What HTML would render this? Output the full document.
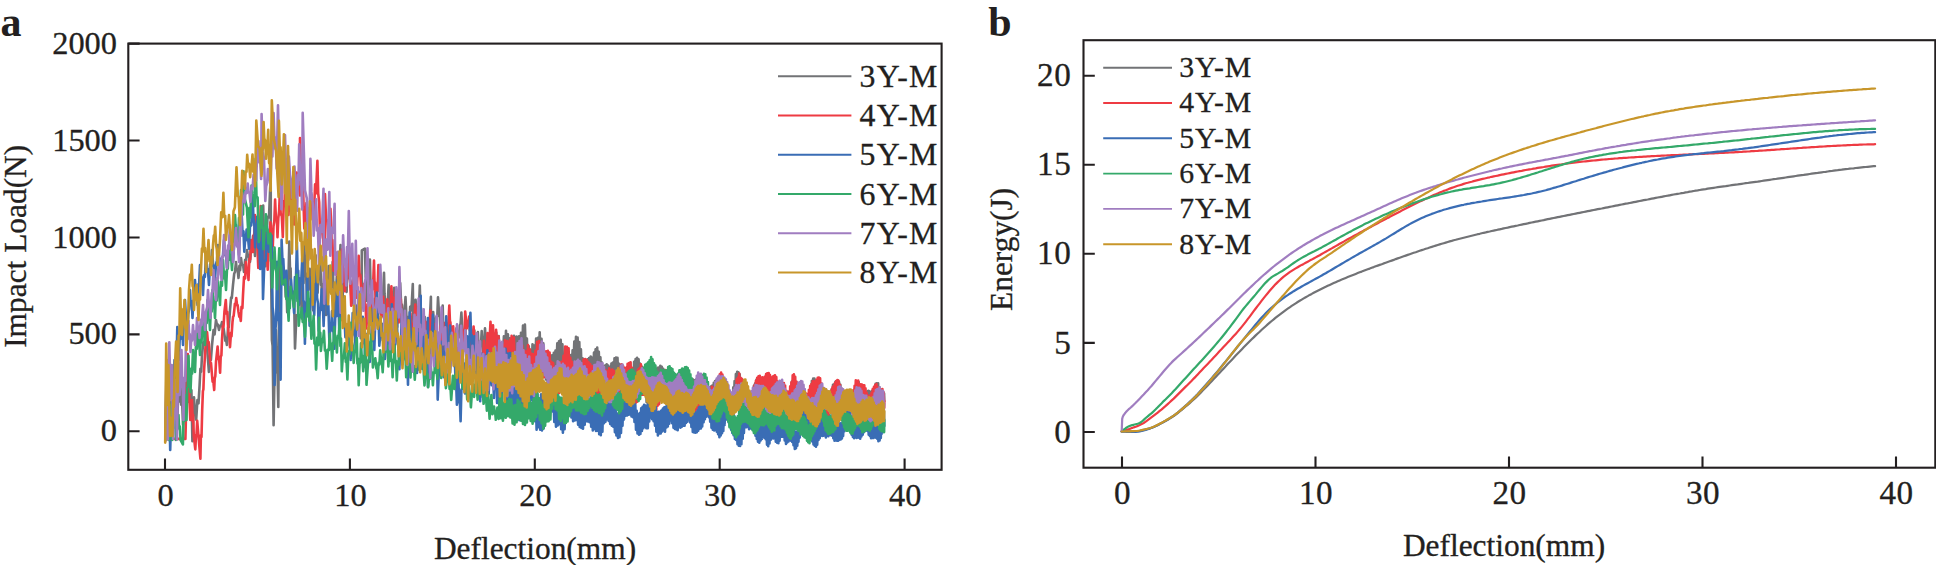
<!DOCTYPE html>
<html><head><meta charset="utf-8"><title>Impact load and energy vs deflection</title>
<style>
html,body{margin:0;padding:0;background:#fff}
svg{display:block}
text{font-family:"Liberation Serif",serif;fill:#231f20;stroke:#231f20;stroke-width:0.3px}
.t{font-size:31.4px}
.ta{font-size:32.4px}
.tb{font-size:33.2px;letter-spacing:0.5px}
.la{font-size:31.8px;letter-spacing:1.2px}
.lb{font-size:29.7px;letter-spacing:0.9px}
.lab{font-size:42px;font-weight:bold;stroke:none}
.ax{stroke:#231f20;stroke-width:2.1;fill:none;stroke-linecap:butt}
.c{fill:none;stroke-width:2.6;stroke-linejoin:round;stroke-linecap:round}
.l{fill:none;stroke-width:1.9}
.cb{fill:none;stroke-width:2.2;stroke-linejoin:round;stroke-linecap:round}
</style></head><body>
<svg width="1936" height="565" viewBox="0 0 1936 565">
<rect width="1936" height="565" fill="#fff"/>
<g id="panel-a">
<rect class="ax" x="128.3" y="43.6" width="813.3" height="426.2"/>
<path class="ax" d="M165.0 469.8v-11.3M349.9 469.8v-11.3M534.8 469.8v-11.3M719.7 469.8v-11.3M904.6 469.8v-11.3M128.3 431.3h11.3M128.3 334.4h11.3M128.3 237.5h11.3M128.3 140.5h11.3M128.3 43.6h11.3"/>
<text class="ta" text-anchor="middle" x="165.6" y="506.4">0</text>
<text class="ta" text-anchor="middle" x="350.5" y="506.4">10</text>
<text class="ta" text-anchor="middle" x="535.4" y="506.4">20</text>
<text class="ta" text-anchor="middle" x="720.3" y="506.4">30</text>
<text class="ta" text-anchor="middle" x="905.2" y="506.4">40</text>
<text class="ta" text-anchor="end" x="117.0" y="441.3">0</text>
<text class="ta" text-anchor="end" x="117.0" y="344.4">500</text>
<text class="ta" text-anchor="end" x="117.0" y="247.5">1000</text>
<text class="ta" text-anchor="end" x="117.0" y="150.5">1500</text>
<text class="ta" text-anchor="end" x="117.0" y="53.6">2000</text>
<path class="c" stroke="#727376" d="M165.3 438.9l1.2 -58.9 1.5 58 0.6 -32.5 0.8 0.8 0.6 -31.3 0.8 32.3 0.6 -0.1 0.6 28.8 0.8 -34.2 0.8 8.5 0.9 -38.3 0.9 33.8 0.7 -7.8 0.9 32 0.9 -27.3 1.2 -1.6 0.9 -27.1 1.2 30.6 0.8 -7.4 1 27.8 1 -22.5 1.1 -0.2 0.9 -20.3 1 11.5 0.8 -4 1.2 12.5 0.7 -5.8 0.9 0.3 0.8 -6.5 1 51.3 1.6 -43.9 0.7 11.5 0.7 -2 0.8 12.8 1.2 -19.6 1.1 3.2 1.1 -18.3 0.8 -16.3 0.8 3 0.8 -16.7 1.3 -12.5 1.3 -0.9 1.2 -11.7 1.6 22.1 1.5 20 1.1 -14.7 0.9 2.5 1.1 -14.8 1.5 -14.9 1.1 4.3 1.4 -14.4 1 5.1 0.9 -0.6 1.1 5.5 1 -4.2 1.1 0.1 0.9 -3.9 0.8 5.9 0.8 0.4 0.9 6.7 0.8 5.7 0.8 -1 0.8 5.3 1.2 -17.8 0.7 0.1 1.2 -17.3 1.1 -12.5 0.7 0.5 1.2 -13 1.2 -11.4 0.8 -1.6 1 -10 0.7 7.3 1 1.1 0.8 7.6 0.9 -12.1 0.7 4.2 0.9 -12.1 0.9 7 1.2 0.2 0.9 6.8 1.1 -12.1 1 0.9 0.9 -10.8 1 6.4 0.9 -1.2 1.1 6.8 1 -12.5 1 -1.1 1 -12.4 0.6 10.4 0.8 -0.2 0.6 9.8 0.9 -17.5 1.1 3 0.8 -16.8 1.3 20.7 1 -3.9 1 17.3 0.7 -29.4 0.7 4.2 0.7 -28 0.7 31.6 0.7 -5.6 0.9 34.7 2 -49.4 1.5 0.5 1.7 -42.8 0.2 80.7 1 84.7 0.7 5.8 1 79.4 0.9 -50.6 0.6 -2.1 0.7 -42.5 0.8 39 0.8 -2.6 0.9 40.6 1.1 -146.5 2.1 6 1.2 -0.3 2.1 6 0.9 24.4 0.9 -4.5 0.6 20.1 0.7 -30.9 0.6 -4.5 0.8 -35.2 0.7 28.2 0.6 -1.6 0.6 25.1 2.8 -1.5 1 56.6 1.4 -33 1.6 0 1.7 -37.1 0.7 21.1 0.6 -4.3 0.9 23.4 0.7 -41.5 0.9 6.2 0.7 -40.3 1.2 31.6 0.7 -0.9 1.2 30.7 0.7 -14.6 0.8 -4.4 0.9 -16.5 1 21.2 1 -3.5 1.2 23.6 1 -25.1 0.7 -2.3 1 -27.3 0.6 17.8 0.8 1.6 0.6 17.9 0.8 -16.2 1 0.8 0.9 -17 0.7 24.6 0.5 -0.9 0.8 25.5 0.7 -20.8 0.6 0.3 0.6 -19.1 0.6 23.6 0.6 -4.7 0.7 26.2 0.8 -25.4 1 2.6 0.8 -26.1 0.5 12.4 0.7 0.7 0.7 13.6 0.7 -16.1 0.5 2.3 0.9 -17.2 0.7 26.2 0.7 -4.8 0.9 28.9 1.8 -35.6 1.5 9.4 2.2 -40.8 0.3 75.1 0.8 -22 1 -0.6 0.9 -23.3 1.2 9 1.1 1 0.8 7.6 0.8 -20.3 0.6 0.5 0.7 -19.5 1 25.7 1 3 0.9 23.6 0.6 -14 0.9 2.8 0.9 -16 1 27.2 0.7 0.1 0.9 25.1 1.9 -12.3 1.4 0.1 1.9 -12.1 0 -55.4 3.1 -1.8 0.8 28.3 0.7 -1.4 0.8 25.6 1 -24.5 0.7 6.6 1 -23.6 0.9 36 0.8 3.2 0.8 34.4 0.8 -20 0.8 5.9 0.8 -20.3 1.1 9.4 1.1 2.4 1 9 0.8 -14.7 0.7 1.8 0.6 -12.5 0.6 10.1 0.6 2.2 0.6 9.7 0.6 -17.8 0.8 -6.6 0.7 -18.9 0.5 20.8 0.7 8.5 0.5 19.9 0.9 -20.1 1 4.2 1 -21.4 0.9 27.1 0.9 -3 1 29.1 1.1 -29.9 0.8 7.4 0.9 -27.6 1.1 20.7 0.9 -1 1 19.3 0.9 -21.8 1.1 1 1 -23 0.9 20.3 0.9 1.8 0.9 22.1 0.8 -12.9 0.9 -3.4 0.9 -13.9 1 21.2 1 -1.5 1 20.5 1.7 -30.6 1.2 3.7 1.4 -26.4 0.6 39.6 0.7 -13.1 0.9 1.3 0.6 -12.1 0.7 13.8 0.7 -0.6 0.8 15.7 0.7 -21.1 0.6 -1.8 0.7 -20.2 0.8 30.1 0.5 -7.2 0.8 29.8 0.9 -9 1.2 -3 0.8 -9.2 0.8 19.7 0.7 0.7 0.7 17.6 1.5 -33.3 1 5.4 1.4 -30.4 0.2 49.4 0.6 -16.4 0.7 2.6 0.8 -20.3 0.7 13.4 0.9 -1.8 0.6 12.9 0.8 -19.2 1.1 -1 0.7 -19 1.1 17.4 0.7 2.1 1 16.7 0.7 -16.4 0.6 2.4 0.6 -13.9 0.6 25.4 0.7 -5.4 0.7 29.2 1.1 -15.9 0.7 2.6 1 -16.7 0.9 21.6 0.9 4.1 0.9 21.9 0.7 -14.2 0.8 -2.9 0.9 -15.6 1.7 26.5 0.7 -21.3 0.7 6.2 0.7 -22.7 0.8 4.3 1 0.5 0.7 4.2 0.9 -11.8 0.8 -1.9 0.8 -11.1 1 19.8 0.6 -2.6 0.9 18.9 1.4 -23.9 0.8 17.1 0.7 3.4 1 21.2 0.5 -15.4 0.7 2 0.6 -15.3 0.8 21 0.9 -3.3 0.7 18.1 0.9 -26.9 0.6 8 0.8 -24.5 0.6 10.3 0.6 -1.7 0.6 12.3 0.6 -8.9 0.7 -1.3 0.5 -8.8 0.6 13.8 0.8 -2.5 0.6 14 0.6 -11.3 0.5 -2 0.7 -13 0.5 12 0.6 -2.3 0.7 14.1 1.5 -26.5 1.7 26.4 0.6 -6.8 0.5 0.9 0.6 -6.5 0.6 13.2 0.5 -4.2 0.6 12.8 1.4 -24.7 1.4 24.5 1 -30.5 1.3 26.2 1.1 -27.1 0.9 22.8 1.5 -19.3 1.2 24.3 1.6 -14.1 1 19.9 1.4 -30 1.2 19.2 0.9 -24.7 1 30.1 0.9 -26.5 1.2 28.6 0.8 -24.7 0.8 24.9 0.9 -20.9 1.2 24.8 1.2 -31.3 1.4 27.3 1.2 -26.5 1.2 25.7 1.2 -25.8 1.1 24.6 0.9 -28.3 1 25.9 1 -33.1 0.9 23.3 1 -24.3 1 32.5 1 -18.4 0.9 31.5 1 -23.9 0.9 32.5 0.9 -27.7 1 24.4 0.9 -31.2 0.9 25.5 0.9 -24.1 0.9 22.5 0.9 -29.6 0.9 25.7 0.9 -26.5 0.9 21.2 0.9 -26.7 0.9 29.3 0.9 -22.7 0.9 22 0.9 -17.6 0.9 28.9 0.8 -20.1 0.9 27.5 0.9 -17.7 0.9 20.6 0.9 -22.8 0.8 25.3 0.9 -24.3 0.9 22.5 0.9 -27.8 0.8 23.2 0.9 -25.8 0.9 24.3 0.8 -26.4 0.9 16.4 0.9 -23.8 0.8 19.5 0.9 -21.3 0.9 18.5 0.8 -20.2 0.9 22.4 0.8 -17.9 0.9 27.5 0.8 -17.1 0.9 25.7 0.8 -24 0.9 26.8 0.8 -23.9 0.9 24 0.8 -24.5 0.9 23.2 0.8 -26.8 0.9 22.1 0.8 -26.8 0.8 19 0.9 -27.9 0.8 21.4 0.9 -26.2 0.8 22.4 0.8 -21.6 0.8 24.3 0.9 -19.7 0.8 29.1 0.8 -21.9 0.9 28 0.8 -19.1 0.8 25.8 0.8 -24 0.8 26.3 0.9 -23.8 0.8 20.3 0.8 -23.4 0.8 24.5 0.8 -25.9 0.8 25.3 0.8 -26.8 0.9 25.1 0.8 -23.9 0.8 20.1 0.8 -25.2 0.8 22.7 0.8 -26.1 0.8 23.8 0.8 -25.4 0.8 25.7 0.8 -21.5 0.8 23.9 0.8 -18.5 0.8 24.4 0.8 -19.1 0.7 23.6 0.8 -19.6 0.8 23.1 0.8 -24 0.8 23.1 0.8 -24.5 0.8 23.8 0.7 -22.4 0.8 23.4 0.8 -21.9 0.8 20.2 0.8 -23.7 0.7 22.5 0.8 -23.6 0.8 20 0.8 -24.1 0.7 20.5 0.8 -21.3 0.8 20.4 0.7 -20.2 0.8 25.3 0.8 -19.2 0.7 22.9 0.8 -21.7 0.8 24.8 0.7 -23.4 0.8 25.3 0.7 -21.7 0.8 22.6 0.7 -21.6 0.8 23.8 0.7 -19.8 0.8 24.3 0.7 -19.5 0.8 20.6 0.7 -20.6 0.8 22.2 0.7 -24.3 0.8 17.9 0.7 -26.6 0.8 19.2 0.7 -26.5 0.8 20.3 0.7 -23 0.7 19.8 0.8 -21.2 0.7 22.7 0.8 -21.2 0.7 24.2 0.7 -19.8 0.8 21.7 0.7 -19.1 0.7 20 0.8 -18.5 0.7 23.6 0.7 -20.5 0.8 24.3 0.7 -15.9 0.7 22.9 0.8 -17.2 0.7 21.4 0.7 -18 0.7 18.6 0.8 -20.4 0.7 17.8 0.7 -23.6 0.7 18.9 0.8 -25.6 0.7 20.3 0.7 -23.5 0.7 19.9 0.7 -21 0.8 20.4 0.7 -22.3 0.7 20.3 0.7 -20.5 0.7 20.9 0.7 -22.6 0.8 20.5 0.7 -19.5 0.7 19.9 0.7 -18 0.7 21 0.7 -15.4 0.7 21.9 0.7 -17.3 0.7 23.3 0.8 -18.1 0.7 18.4 0.7 -18.4 0.7 17.6 0.7 -20.2 0.7 16.2 0.7 -20 0.7 19.1 0.7 -20.1 0.7 18 0.7 -17.6 0.7 18.4 0.7 -19.2 0.7 20.4 0.7 -21.7 0.7 20.6 0.7 -22.1 0.7 19.3 0.7 -18.8 0.6 18.6 0.7 -17.7 0.7 20.1 0.7 -17.2 0.7 20 0.7 -16.6 0.7 22.6 0.7 -17.2 0.7 19.1 0.6 -20.6 0.7 19 0.7 -19.1 0.7 16.3 0.7 -20 0.7 17.3 0.7 -19 0.6 17.8 0.7 -18.5 0.7 18.5 0.7 -17.5 0.6 18.4 0.7 -18.1 0.7 17.8 0.7 -19.1 0.7 17.3 0.6 -18.2 0.7 19.7 0.7 -18.8 0.6 20.5 0.7 -18.2 0.7 21.2 0.7 -15.7 0.6 22.4 0.7 -15.9 0.7 21 0.6 -17.9 0.7 18.2 0.7 -18 0.6 17.8 0.7 -20.3 0.7 18.2 0.6 -20.7 0.7 15.2 0.6 -18.1 0.7 16.9 0.7 -19.2 0.6 17.9 0.7 -19.1 0.6 16 0.7 -18.5 0.7 17.7 0.6 -19.4 0.7 17.8 0.6 -18.6 0.7 16.5 0.6 -17.6 0.7 16.9 0.6 -18.1 0.7 19.4 0.6 -15.2 0.7 21.6 0.6 -16.7 0.7 20.2 0.6 -14.4 0.7 18.7 0.6 -14.9 0.7 17.9 0.6 -18.4 0.7 19.3 0.6 -19 0.7 16.5 0.6 -16.9 0.7 15.7 0.6 -17.3 0.7 16.7 0.6 -17.3 0.6 16.4 0.7 -17.5 0.6 13.7 0.7 -19.2 0.6 13.1 0.7 -19.3 0.6 13.7 0.7 -20.6 0.6 14.5 0.7 -16.8 0.6 16.2 0.6 -15.7 0.7 17.9 0.6 -15.9 0.7 20.7 0.6 -14.4 0.7 19.4 0.6 -14.3 0.7 17.9 0.6 -16.5 0.6 18.3 0.7 -16.7 0.6 19.6 0.7 -15.5 0.6 18 0.7 -16.3 0.6 18.5 0.6 -17.7 0.7 19.4 0.6 -16.6 0.7 16.2 0.6 -19.5 0.6 16.6 0.7 -18.3 0.6 14.5 0.7 -21.8 0.6 15 0.6 -17.5 0.7 15.1 0.6 -18.5 0.7 18.3 0.6 -17.5 0.6 17.4 0.7 -14.8 0.6 19.3 0.6 -17.5 0.7 19.7 0.6 -16.8 0.7 17.5 0.6 -17.9 0.6 19.2 0.7 -17.2 0.6 16.3 0.6 -15.3 0.7 18.3 0.6 -14.5 0.7 17.3 0.6 -15.1 0.6 16.8 0.7 -14.9 0.6 15.2 0.6 -17.3 0.7 14.7 0.6 -17.1 0.6 13.6 0.7 -17.1 0.6 15.2 0.6 -18 0.7 16.4 0.6 -17.3 0.6 16.9 0.7 -15.6 0.6 18.7 0.6 -17.5 0.7 18.6 0.6 -15.3 0.6 16.9 0.7 -17.7 0.6 17 0.6 -16.2 0.7 17.2 0.6 -18.1 0.6 16.9 0.7 -15.5 0.6 17.9 0.6 -17 0.6 18.6 0.7 -16.6 0.6 16.1 0.6 -16.7 0.7 15 0.6 -19 0.6 15.4 0.6 -19.3 0.7 14.2 0.6 -20.2 0.6 16.6 0.7 -18.2 0.6 14.6 0.6 -14.8 0.6 17 0.7 -14.9 0.6 16.1 0.6 -15.3 0.7 18.8 0.6 -15.4 0.6 16.7 0.6 -14.3 0.7 15.8 0.6 -15.9 0.6 18 0.6 -15.9 0.7 19.4 0.6 -16.1 0.6 19 0.6 -14.2 0.7 18.4 0.6 -15.6 0.6 16.2 0.6 -17.8 0.7 15.7 0.6 -17.7 0.6 15 0.6 -20 0.7 14.6 0.6 -20.7 0.6 15.2 0.6 -20.9 0.6 17.1 0.7 -19.4 0.6 17.7 0.6 -17.7 0.6 17.7 0.7 -15.6 0.6 16.1 0.6 -15.5 0.6 16.7 0.6 -17.3 0.7 18.7 0.6 -16.8 0.6 19.9 0.6 -15.1 0.6 18.8 0.7 -14.6 0.6 19.9 0.6 -13 0.6 19.2 0.6 -14.4 0.6 19.6 0.7 -15.1 0.6 15.5 0.6 -16.7 0.6 16.7 0.6 -20.9 0.7 16 0.6 -20.6 0.6 13.5 0.6 -19.7 0.6 16.4 0.6 -18.9 0.7 15.3 0.6 -19.5 0.6 17.1 0.6 -17.8 0.6 16.1 0.6 -18.4 0.7 17.5 0.6 -18.1 0.6 16.6 0.6 -17.3 0.6 15.8 0.6 -14.3 0.6 17 0.7 -14.3 0.6 19.3 0.6 -14.6 0.6 20.9 0.6 -14.1 0.6 18.4 0.6 -15.1 0.6 18.8 0.7 -16 0.6 16.2 0.6 -16.4 0.6 15.4 0.6 -18.3 0.6 17.1 0.6 -19 0.6 15.5 0.6 -16.3 0.7 16.7 0.6 -18 0.6 17.7 0.6 -18.5 0.6 15.5 0.6 -18.7 0.6 14.8 0.6 -17.9 0.6 14.9 0.6 -19.6 0.7 16.1 0.6 -16.2 0.6 14.7 0.6 -16 0.6 17.4 0.6 -13.7 0.6 19 0.6 -15.8 0.6 17.8 0.6 -14.1 0.6 16.2 0.6 -15.7 0.7 16.7 0.6 -15.3 0.6 15.5 0.6 -17.8 0.6 15.3 0.6 -16.1 0.6 16.9 0.6 -17.5 0.6 16.4 0.6 -15.8 0.6 16.4 0.6 -14.9 0.6 14.4 0.6 -16.6 0.6 16 0.6 -17.7 0.6 16.4 0.6 -18.8 0.6 14.3 0.6 -17.1 0.6 16.7 0.7 -17.3 0.6 15.9 0.6 -15.8 0.6 19 0.6 -15.3 0.6 17 0.6 -14.7 0.6 16.6 0.6 -15.8 0.6 17.8 0.6 -16.2 0.6 17.8 0.6 -16 0.2 7.7"/>
<path class="c" stroke="#ee3b43" d="M165.3 438.9l20.1 0 1.2 -46.9 1.2 -38 1.2 36 1.3 30 1.7 -20 0.7 21.5 0.4 -6.6 0.7 21.1 1.5 13.4 0.7 -14.3 0.5 -0.4 0.7 -13.8 1.6 19.1 1.6 18.7 0.5 -23.5 0.6 1.8 0.7 -27 0.7 -18.9 0.5 -1.7 0.6 -17.4 1.6 -27 1.5 -12.7 0.9 10.7 0.7 -0.9 0.8 9.9 0.9 11.4 0.6 -0.4 1 12 0.6 6.7 0.8 0.3 0.8 8 0.5 -11.6 0.6 -2.2 0.7 -14.2 1.6 -15.4 0.8 11.6 0.8 2.1 0.9 12.3 0.6 -15.9 0.7 -1.3 0.6 -15.4 0.8 -13.8 0.7 0.6 0.9 -14.8 1.4 -12 0.7 13.4 0.8 -1.6 0.7 13.2 0.6 10.1 0.8 2 0.6 10.1 1 -14.3 0.5 3.4 1 -14.3 0.6 -5.5 0.5 -0.3 0.7 -6.2 0.6 -6.3 0.7 1.1 0.6 -6.8 0.9 7.1 0.5 -0.1 0.9 7 0.8 4.8 0.8 -0.2 0.7 4.4 0.7 -14.2 0.9 1.4 0.6 -13.2 1 -17.9 1.1 1.4 0.9 -16.5 0.9 10.7 0.8 -2.4 0.8 9.7 0.9 -21.3 0.8 0.7 0.8 -19.4 0.8 7.4 0.5 -2.5 0.7 7.1 0.6 -16.3 0.7 -2.1 0.7 -18.6 1.3 27.7 1 1.5 1 23.7 0.7 -25.9 0.9 -9 0.8 -27 0.9 33.3 0.4 -9.3 0.9 33 0.9 -16.7 1.1 2.6 0.9 -17.2 0.7 20.9 0.6 -1.7 0.6 18.9 0.9 -25.6 0.9 2.8 0.9 -24.8 0.9 13.5 0.7 -2.6 0.8 13.2 0.7 -20.1 0.8 -4.5 0.8 -22.2 0.8 18.6 1 1.3 0.6 17.8 0.8 -18.8 0.8 -7.3 0.7 -17.1 0.9 19.5 1.1 2.7 1 20.8 1 -35.9 0.7 5.4 0.9 -35.2 1.2 23.1 0.8 -0.2 1.1 20.7 0.9 -16.5 1 -1.7 0.8 -14.7 0.9 21.3 1.1 -2.7 1 23.9 0.8 -22.2 0.8 -4.3 0.9 -25.5 1.3 11.6 1 1.7 0.9 9.6 0.1 -57.4 1.3 45.4 1.4 -7.4 1.6 52.4 0.6 -12.4 0.8 0.5 0.7 -13.4 0.8 21.2 0.6 0.2 0.6 17 1.1 -28.3 0.9 6.4 0.8 -23.7 1 9 0.8 1.2 0.9 8.1 1.2 -29.8 0.9 9 1.4 -32.6 0.8 32.5 1 9.1 0.9 35.7 1 -10.5 0.8 0.6 1 -9.8 0.5 24.4 0.7 11.8 0.6 26.2 0.3 -86.8 1.1 24.8 1.4 2.7 1 24 0.7 -16.4 0.7 -4.5 0.6 -15.8 1.2 32.8 0.7 -1.7 1.1 30.8 1 -11 0.6 4.2 1.1 -11.2 0.9 21.2 0.9 1.3 0.8 19.3 1 -19.7 1.1 -4 1.1 -21.3 0.8 19.7 1 -0.9 1 22.9 1 -21.2 1 4.2 1.2 -24.5 0.9 21.5 1.4 12.2 0.9 22.2 1 -17.3 1 -2.9 1.1 -18.9 0.8 16 0.9 0.4 0.8 14.9 0.6 -20.3 0.7 -1.9 0.6 -19.8 0.8 17.9 0.9 1.7 0.9 18.8 1 -5.5 1.1 0 0.7 -4.8 0.7 20.5 0.8 0 0.8 24.1 0.8 -16.1 0.9 0.3 0.8 -17.1 0.9 5.6 0.8 0.5 0.9 5.3 0.8 -22.9 0.8 1.5 0.9 -25 0.7 29 0.4 -7 0.7 27.6 0.8 -25.3 0.9 6.1 0.9 -26 0.9 22.4 1.1 8.7 0.9 21.5 0.7 -12.3 0.5 3.5 0.7 -11.9 0.7 18.2 0.9 -0.9 0.7 18.6 0.7 -17.5 0.6 -1.2 0.5 -14.7 0.7 21.9 0.5 -7.3 0.6 21.9 0.9 -24.4 0.6 -3.2 0.8 -22.1 0.8 14.2 0.9 -2.9 0.8 14.3 0.7 -11.4 0.7 1.7 0.8 -12.9 1 17.9 0.9 1.4 0.7 14 0.8 -11.2 0.5 -0.7 0.8 -11.5 0.7 22.8 0.7 -3 0.8 22.7 0.9 -9.8 0.7 -0.4 1.1 -11.4 0.6 9.8 0.9 4.7 0.7 10.3 0.8 -16.2 0.8 3.8 1 -19 0.8 12.8 0.6 0.3 0.8 13.5 0.8 -16.5 0.8 0.2 1 -19.2 0.8 18.3 0.7 -4.4 0.6 15.2 0.8 -12.6 1.2 -2.9 0.9 -13 1 22.6 0.9 -4.3 1 23.4 0.8 -11.3 1 -3.1 0.7 -10.7 0.9 9.9 1 3 0.8 9.6 0.6 -16.3 0.6 2.3 0.8 -19.6 0.8 18.2 0.6 -2 0.7 16.6 0.8 -8.1 0.8 -1.2 1 -10.1 1 14.9 0.8 -0.1 1 15.5 0.9 -13.2 1 -3.7 0.8 -11.6 0.5 15.8 0.5 -3.2 0.7 18.4 0.9 -17 1 -1.2 0.9 -15.9 1.6 18.8 0.8 -15.3 1 -4.5 0.8 -16.1 0.7 16.9 0.4 -0.5 0.7 17 0.8 -7.2 0.7 0.7 0.6 -6.2 0.8 15 0.9 2.5 0.8 14.4 0.5 -11.2 0.6 0.3 0.6 -13 1.7 33.2 0.8 -20 1 2.2 0.8 -20.4 1.7 21.9 0.6 -17.6 0.6 -3.1 0.6 -18.9 1.6 16.8 0.8 -7.3 0.7 2.4 0.8 -6.9 0.7 13.8 0.8 1.1 0.7 13.7 0.8 -8.9 0.8 -1.4 0.7 -8.3 1.3 27.1 1.6 -10.6 0.6 15.4 0.7 1.7 0.6 13.2 0.5 -7.9 0.7 -3.6 0.5 -7.7 0.9 8.2 0.6 0.3 0.7 6.6 0.6 -14.9 0.4 2.5 0.7 -16.2 0.6 11 0.8 5.1 0.6 11.4 1.5 -35.1 1.4 19.4 1.6 -30.7 1.4 34.5 1.1 -31.1 0.7 17 0.4 -2.1 0.7 16.5 1.3 -26.8 1.2 27.3 1.2 -20.7 1.3 40.4 1 -33.4 1.2 34.7 1.1 -33.4 1 27.8 0.9 -32.3 1.3 29.6 1.1 -28.7 1.3 25.9 1.4 -27.2 0.7 29.7 0.8 -33.8 1.1 36 1.2 -34.2 1.2 37 1.3 -22.6 1.1 25.6 0.8 -26.6 1.1 25.2 0.9 -28.1 0.9 29.1 1 -31.5 1 30.3 1 -25.3 0.9 27.1 1 -26.2 1 23.6 0.9 -30.1 1 32.3 0.9 -27.9 1 31.5 0.9 -27.2 0.9 23.4 0.9 -22.8 0.9 20.6 0.9 -24 0.9 23.5 0.9 -32.5 0.9 28.5 0.9 -29.4 0.9 35.3 0.9 -31.2 0.9 35.8 0.9 -29 0.9 25.4 0.9 -23.1 0.8 22.8 0.9 -25.7 0.9 25.4 0.9 -25.9 0.9 26.5 0.8 -24.7 0.9 29.5 0.9 -20.3 0.9 29.6 0.8 -28.4 0.9 29.7 0.9 -24.9 0.8 27.7 0.9 -26.9 0.9 25 0.8 -27.7 0.9 27 0.9 -30.3 0.8 25.5 0.9 -26.4 0.8 22.1 0.9 -28.1 0.8 24.1 0.9 -33.2 0.8 27.2 0.9 -27.1 0.8 29.4 0.9 -27.9 0.8 33.6 0.9 -24.1 0.8 28.4 0.9 -24.4 0.8 31.9 0.8 -28.6 0.9 30.5 0.8 -28.2 0.8 28.9 0.9 -25.4 0.8 29.7 0.8 -27.5 0.9 29.9 0.8 -30.7 0.8 27.4 0.8 -33.2 0.9 25 0.8 -31.9 0.8 27 0.8 -27.4 0.8 26.6 0.9 -25.7 0.8 29.5 0.8 -27.3 0.8 30.3 0.8 -28.5 0.8 30 0.8 -28 0.8 27.6 0.9 -27 0.8 31.9 0.8 -25.6 0.8 31.2 0.8 -27.4 0.8 28.4 0.8 -25.5 0.8 24.7 0.8 -29.3 0.8 24.8 0.7 -28 0.8 25.6 0.8 -28.9 0.8 26 0.8 -25 0.8 27.3 0.8 -26.2 0.8 26 0.7 -25.1 0.8 24.9 0.8 -28 0.8 29.8 0.8 -27.3 0.7 25.2 0.8 -26.5 0.8 28.9 0.8 -27.4 0.7 29.1 0.8 -23.9 0.8 26.9 0.7 -30.1 0.8 28.4 0.8 -29.6 0.7 21.8 0.8 -26.1 0.8 26.4 0.7 -29.6 0.8 27.1 0.7 -25.8 0.8 26.3 0.8 -24.3 0.7 27.4 0.8 -27.3 0.7 25.9 0.8 -29.9 0.7 25.3 0.8 -26 0.7 25.1 0.8 -26 0.7 31.9 0.7 -26.2 0.8 31.9 0.7 -23.6 0.8 28.4 0.7 -29.6 0.8 27.6 0.7 -27.9 0.7 26.9 0.8 -32.1 0.7 24.6 0.8 -26.1 0.7 24.4 0.7 -28.2 0.8 30.5 0.7 -26.1 0.7 26.2 0.8 -25.7 0.7 25.5 0.7 -25.7 0.8 26.8 0.7 -25.5 0.7 27.8 0.8 -21.1 0.7 27.3 0.7 -21.4 0.7 29.8 0.8 -26.4 0.7 30.1 0.7 -26.7 0.7 25.9 0.7 -24.7 0.8 24.2 0.7 -29.9 0.7 25.9 0.7 -28.4 0.7 23.1 0.8 -28.5 0.7 26.9 0.7 -29 0.7 25.2 0.7 -27.1 0.7 24.7 0.7 -25.5 0.8 24.1 0.7 -25.1 0.7 25.8 0.7 -27.1 0.7 25.4 0.7 -23.1 0.7 28.9 0.7 -22.7 0.7 30.1 0.7 -25.4 0.7 30.3 0.7 -25.2 0.7 28.9 0.7 -26.7 0.7 24.1 0.7 -26.8 0.7 26.2 0.7 -26.4 0.7 25.9 0.7 -29.6 0.7 28.5 0.7 -28.8 0.7 26.4 0.7 -29.6 0.7 25.4 0.7 -29.4 0.7 24.9 0.7 -26.9 0.7 23.2 0.7 -25.1 0.7 25.6 0.6 -25 0.7 24.8 0.7 -21.3 0.7 27.1 0.7 -25.1 0.7 28.9 0.7 -26.4 0.6 28.3 0.7 -25.9 0.7 26 0.7 -26.9 0.7 24.8 0.6 -22.6 0.7 24.4 0.7 -24.4 0.7 26.7 0.7 -25.2 0.6 22.8 0.7 -22.5 0.7 22 0.7 -24.2 0.6 21.5 0.7 -25 0.7 23.1 0.6 -24 0.7 24.4 0.7 -27.2 0.6 27.6 0.7 -22.2 0.7 24.7 0.6 -23.1 0.7 26.5 0.7 -21.6 0.6 23.4 0.7 -24.6 0.7 23.9 0.6 -21.2 0.7 22.7 0.7 -26.2 0.6 25.3 0.7 -25.7 0.6 25.4 0.7 -24.1 0.6 24.3 0.7 -24.5 0.7 22.8 0.6 -22.7 0.7 21.6 0.6 -23.7 0.7 20.1 0.6 -26.7 0.7 21 0.6 -25.9 0.7 22.7 0.6 -24.6 0.7 23.2 0.6 -21.1 0.7 23.6 0.6 -19.1 0.7 26.2 0.6 -22.1 0.7 27.6 0.6 -22.4 0.7 23.8 0.6 -19.3 0.7 23.1 0.6 -24.2 0.7 27 0.6 -25.5 0.6 23.2 0.7 -20.9 0.6 22.7 0.7 -24.9 0.6 24.1 0.7 -26.5 0.6 20.5 0.7 -24 0.6 20.3 0.7 -28.5 0.6 23.4 0.7 -25.1 0.6 21.7 0.6 -25.8 0.7 25.3 0.6 -21 0.7 22.7 0.6 -21.7 0.7 24.8 0.6 -20.3 0.6 26.3 0.7 -22.8 0.6 23.3 0.7 -23 0.6 24.3 0.7 -22.8 0.6 25 0.6 -21.6 0.7 23.9 0.6 -22.6 0.7 26.7 0.6 -22.5 0.6 21.6 0.7 -21.8 0.6 20 0.7 -26.4 0.6 21.5 0.6 -27.4 0.7 24.3 0.6 -28.5 0.7 20.7 0.6 -23.6 0.6 23.1 0.7 -24.6 0.6 24.1 0.7 -24.8 0.6 24 0.6 -21.7 0.7 24 0.6 -24.6 0.6 23.9 0.7 -23.3 0.6 23.3 0.7 -24.7 0.6 22.5 0.6 -25 0.7 23.7 0.6 -24.5 0.6 24.7 0.7 -24.9 0.6 27.1 0.6 -25.4 0.7 27.2 0.6 -24.2 0.6 24.5 0.7 -25.4 0.6 23.3 0.6 -24.2 0.7 24.7 0.6 -25.3 0.6 25.7 0.7 -24.1 0.6 25.5 0.6 -21.3 0.7 24.5 0.6 -21.5 0.6 22.4 0.7 -24.5 0.6 25.2 0.6 -25.8 0.7 26 0.6 -23.5 0.6 21.6 0.7 -22.5 0.6 25 0.6 -22.5 0.7 25.8 0.6 -20.5 0.6 22.6 0.6 -21.8 0.7 24.3 0.6 -23.6 0.6 19.6 0.7 -25.6 0.6 21.5 0.6 -25.7 0.6 18.3 0.7 -25.1 0.6 21.3 0.6 -22.5 0.7 23.1 0.6 -20.6 0.6 24.6 0.6 -19.7 0.7 22.9 0.6 -21.3 0.6 22.1 0.6 -19.5 0.7 21.7 0.6 -23.1 0.6 22.2 0.7 -21.5 0.6 22.1 0.6 -20.8 0.6 23.9 0.7 -20.3 0.6 23.4 0.6 -20.6 0.6 22.2 0.7 -21 0.6 19.7 0.6 -19.9 0.6 20.5 0.6 -24.6 0.7 18.8 0.6 -22.7 0.6 21.7 0.6 -23.4 0.7 20.1 0.6 -23 0.6 23.9 0.6 -23.9 0.6 22.1 0.7 -21.2 0.6 19.1 0.6 -21.5 0.6 20.2 0.7 -22.1 0.6 22.4 0.6 -22.6 0.6 21.7 0.6 -20.9 0.7 22.4 0.6 -17.4 0.6 22.6 0.6 -17.9 0.6 25.3 0.7 -20.1 0.6 24 0.6 -18.6 0.6 19.7 0.6 -20.3 0.6 20.4 0.7 -23.2 0.6 20.2 0.6 -22.7 0.6 20.1 0.6 -20.7 0.6 17.6 0.7 -19.5 0.6 18.9 0.6 -21.9 0.6 21 0.6 -22.4 0.6 18.1 0.7 -21.3 0.6 18.5 0.6 -20.2 0.6 19.4 0.6 -20.3 0.6 20.6 0.6 -19.9 0.7 21.8 0.6 -17.9 0.6 23 0.6 -17.5 0.6 24 0.6 -16.7 0.6 20.5 0.7 -17.3 0.6 19.6 0.6 -17.8 0.6 17.3 0.6 -18.6 0.6 20 0.6 -19.4 0.6 18.4 0.7 -20.4 0.6 20.6 0.6 -20.6 0.6 19.8 0.6 -23.1 0.6 19.9 0.6 -21.6 0.6 15.5 0.6 -19.9 0.7 16.9 0.6 -21.4 0.6 15.6 0.6 -21.2 0.6 18.2 0.6 -17.3 0.6 17.4 0.6 -18 0.6 20.6 0.6 -17 0.6 17.5 0.6 -17.3 0.7 19.4 0.6 -19.2 0.6 18.5 0.6 -17.7 0.6 19.8 0.6 -19.8 0.6 21.4 0.6 -18.5 0.6 20.2 0.6 -15.7 0.6 21.1 0.6 -18.3 0.6 18.4 0.6 -16.5 0.6 16.6 0.6 -18.9 0.7 16.3 0.6 -18.6 0.6 15.5 0.6 -19.7 0.6 16.7 0.6 -18.7 0.6 14.7 0.6 -16.3 0.6 16.7 0.6 -17.7 0.6 19.8 0.6 -16.7 0.6 17.6 0.6 -16.7 0.6 18.8 0.6 -17.6 0.6 18.6 0.6 -16.8 0.6 16.6 0.6 -18.7 0.6 18.3 0.6 -15.1 0.6 15.5 0.1 -6.7"/>
<path class="c" stroke="#3a6db5" d="M165.3 440.0l1.1 -45 1.2 35 1.2 -50 1.4 70 1.4 -50 1.2 25 1.7 -65 1.5 25 1.3 -58 1.7 33 0.7 -22.3 0.6 1.3 0.7 -24 0.6 15 0.7 -1.9 0.7 16.9 0.7 -22.9 0.7 -1.4 0.6 -20.7 1 18.3 0.7 -4.5 0.8 16.2 0.7 -16 0.9 -5.1 0.9 -18.9 0.7 14.2 0.9 -3 0.9 16.8 0.8 -16.7 0.7 -2.2 1 -19.1 0.9 12.7 0.8 0.5 0.8 11.8 1 -21 0.5 2.2 1 -21.2 1 16.8 0.9 -4.3 1.1 17.5 0.9 -19.6 1 1.6 1.1 -22 0.9 13.3 1 1 1.1 15.7 1.1 -20.6 0.9 5.8 1 -20.2 1.2 15.6 0.8 0.2 1 14.2 0.9 -15.1 1.1 -4.7 1 -15.2 0.9 14.1 1 -0.6 1.1 16.5 1.2 -17.8 0.7 -0.7 1.1 -16.5 1.1 14.7 1 0.8 0.9 12.5 1 -17.7 1 1.6 1 -16.9 1.1 12.7 0.9 2.9 1 11.4 1 -15.9 0.8 -2.6 1.2 -18.5 0.9 13.4 1.2 3.5 0.9 13.1 0.9 -21.5 0.9 -0.7 0.8 -20.6 1 23.3 0.9 -4.3 0.8 20.4 0.7 -10 0.8 -1.3 0.8 -10.8 0.9 10.2 0.6 -1 0.9 10 1.1 -25.3 1.2 1.9 1.4 -29.5 0.7 21.2 1 8.1 0.7 22.1 0.6 -16.7 0.6 5.7 0.9 -19.3 1.2 31.1 0.8 -5.7 1 26.7 0.5 -17.8 0.8 -4.9 0.7 -20.7 0.8 73.4 1.4 -37.9 1.3 -0.4 1.2 -33.9 0.6 11.2 0.7 2.4 0.7 11.4 0.7 -8 1 0.4 0.9 -8.7 1.1 71.6 1 9.2 1 68.7 0.9 -56.8 0.7 -6.4 0.9 -59.9 1.1 58 1.1 -6.7 1.3 66.4 1 -139.7 1.1 26.4 0.6 -7.3 1.1 25.9 0.7 -7.5 0.6 0.8 0.8 -7.5 0.6 18.9 0.7 2.6 0.7 19.1 0.9 -18.3 0.7 3.5 0.8 -16.9 1 13.7 1.1 4.5 1.1 15.1 0.8 -35.8 1 5.2 1 -40 0.8 31.2 0.5 -3 0.9 34.3 1.1 -22.6 1.2 -4.5 1 -23.1 0.9 45.7 0.8 1.9 0.8 41.6 0.7 -30.1 0.9 -7.1 0.7 -28.1 0.9 27.5 0.6 -6.7 0.9 26.3 0.6 -21.6 0.7 -7.2 0.6 -19.8 1 18.5 0.8 1.6 0.9 18.2 0.8 -20.8 0.8 -4.3 0.7 -18.3 0.6 26.1 0.9 5.4 0.7 27.2 1.1 -19.8 0.9 -2.9 1 -18.7 0.7 21 0.6 -2.4 0.6 18.2 1.1 -29 1.1 5.6 0.9 -25.2 1 36.8 0.7 -8.5 1 37.8 1 -20.3 0.7 6.9 0.9 -19 0.8 20.1 0.6 -4.1 0.9 21.7 1.1 -38.1 1 5.4 1 -36.1 0.7 23.7 0.5 1.9 0.6 22.8 0.9 -15.1 1 1.5 1.2 -18.3 1 20.1 1 -1.2 1.1 21.9 1 -2.8 0.8 -0.7 1 -3 0.8 12.5 1 5.4 0.7 11.2 0.8 -24.2 0.5 0.3 0.7 -23 1.2 21.3 0.9 -2.3 0.9 17.5 1 -34.4 0.9 9.7 1 -33.3 0.7 21.1 0.9 6 0.6 19.6 0.8 -13.2 0.7 2.6 0.5 -10.8 0.8 26.4 0.8 -6.5 1 30.6 0.6 -16.8 0.6 1.1 0.7 -17.9 0.9 15.3 0.8 -0.6 0.7 13.6 0.8 -20.3 0.7 -0.1 0.7 -19.6 0.9 15.7 0.8 -1.2 0.7 13.5 0.8 -24 0.9 -7.5 0.9 -25.9 0.9 32 0.8 -5.1 0.7 26.3 1 -10.8 0.6 -0.7 1 -10.4 0.9 16.2 1 1.3 1.1 17.6 0.9 -15.7 0.8 3.5 1 -16.2 0.8 10.9 0.7 -1 0.7 9.7 0.6 -21.5 0.7 -2.4 0.7 -22.1 1 24.6 0.8 4 0.8 22 0.8 -19.7 0.6 -0.8 0.8 -22.3 1.1 32.3 0.8 -5.1 0.9 29.9 0.9 -27.4 0.7 -1.3 0.7 -23.7 0.6 19.2 0.8 3.5 0.6 20 0.6 -24.4 0.6 5.3 0.5 -22.5 1 36.9 0.7 -5.7 0.9 35.8 0.6 -37.8 0.6 -0.2 0.5 -34.5 1.1 23.5 0.9 -3.9 0.8 19.7 1 -8.9 0.8 -2.5 0.8 -7.2 0.6 17.1 0.7 6.2 0.6 16.7 1.2 -39.4 1.1 6.7 1.4 -44.6 0.2 73 0.9 -20.5 0.6 -1.8 0.7 -17.4 0.8 25.6 0.5 -3.9 0.7 23.2 0.9 -31.9 0.9 8.7 1 -32.7 0.1 68.9 1.5 -32.1 1.9 -7.4 1.5 -32.6 0.7 27 0.9 4.6 0.7 25.5 0.6 -13.7 0.6 -1.7 0.5 -12.7 0.8 55.8 1.3 -31.8 1 5.2 1.2 -31.2 0.9 18.2 0.8 -0.9 0.9 18.2 0.9 -37 0.6 13 0.9 -37.1 0.8 23 0.8 4.2 0.7 21.3 1.6 -39.1 0.7 15.5 0.6 0.8 0.7 16.1 2.7 -1.7 0.6 21.8 0.6 0.6 0.9 26.1 1.4 -26.9 0.9 24.4 0.6 -3.6 0.8 22.6 0.8 -31.5 0.9 -1.7 0.7 -29.1 0.6 13.9 0.8 7 0.6 13.5 0.8 -30.4 0.5 2 0.8 -28.7 1.6 23.3 1.7 -46.7 0.6 22.9 0.8 -0.6 0.7 22.8 0.7 -12.8 0.5 4.1 0.7 -13.1 0.8 23.3 0.4 -9.4 0.8 23.7 0.7 -8 0.8 0.1 0.7 -9 1.6 44.4 1.3 -47.7 1.6 44.1 1.3 -42.4 1.3 36.2 0.6 -20.6 0.6 -3.3 0.5 -17.4 1.3 43.6 0.5 -15.5 0.6 -5 0.6 -19.7 1.3 31.5 1.1 -28.1 1.1 41 0.5 -20 0.6 -5.3 0.6 -22 1.5 52.2 1.5 -32 0.9 43.6 0.9 -38.2 1.5 23 1.2 -42.4 1.2 27.6 1.2 -35.6 1.1 51.6 1.4 -46.9 0.9 47.8 1.3 -48.4 0.8 47.7 1.1 -43 0.8 46.5 1.2 -34.3 0.9 43.1 0.8 -35.6 1.2 42 1.2 -33.3 1.2 34 1.1 -36.6 1 29.9 1 -41.5 1 35.5 1 -34.2 0.9 34.7 1 -40.2 1 40.5 0.9 -39.5 1 36.2 0.9 -37.7 0.9 32.4 1 -23.9 0.9 33.2 0.9 -30.5 0.9 42.8 0.9 -33.3 0.9 41.7 0.9 -35.6 0.9 33.3 0.9 -28.7 0.9 31.2 0.9 -35.6 0.9 36.3 0.9 -35.5 0.8 33.3 0.9 -33 0.9 24.1 0.9 -31 0.9 23.2 0.9 -32.4 0.8 32 0.9 -34.8 0.9 30.4 0.9 -24.9 0.8 29.6 0.9 -18.4 0.9 28.8 0.8 -27 0.9 31.7 0.9 -24.9 0.8 23.7 0.9 -25.6 0.9 24.3 0.8 -23.3 0.9 28.3 0.8 -26.4 0.9 30.1 0.9 -30.5 0.8 27 0.9 -32.7 0.8 23.2 0.9 -28.6 0.8 26.2 0.9 -29.8 0.8 26.5 0.8 -25.6 0.9 28.9 0.8 -25.6 0.9 29.5 0.8 -26.5 0.8 25.6 0.9 -26.4 0.8 26 0.8 -24.1 0.9 28.7 0.8 -28.3 0.8 30.6 0.9 -24.6 0.8 25.6 0.8 -25.4 0.8 26.3 0.9 -28 0.8 23.9 0.8 -28.4 0.8 24.8 0.8 -27.6 0.8 27.9 0.9 -26.1 0.8 26.8 0.8 -21.9 0.8 26.4 0.8 -22 0.8 25.9 0.8 -24.5 0.8 23 0.8 -25.1 0.8 27 0.8 -25 0.8 24.8 0.8 -21.6 0.8 25 0.8 -24.7 0.8 25.9 0.8 -26.8 0.8 23.3 0.8 -28.8 0.8 20.2 0.8 -25.1 0.7 23.5 0.8 -24.8 0.8 22.7 0.8 -21.6 0.8 23 0.8 -22.4 0.7 25.5 0.8 -23.5 0.8 25.3 0.8 -23 0.7 23.8 0.8 -20.2 0.8 25.7 0.7 -23.4 0.8 26.8 0.8 -22 0.8 24.5 0.7 -23.6 0.8 22.8 0.7 -25 0.8 20.8 0.8 -26.3 0.7 19.1 0.8 -26.9 0.7 20.5 0.8 -26.4 0.7 22.7 0.8 -25.6 0.8 25.4 0.7 -22.8 0.8 22 0.7 -24.5 0.7 24.3 0.8 -21.6 0.7 23.6 0.8 -24 0.7 24.7 0.8 -19 0.7 23.7 0.8 -17.4 0.7 25.2 0.7 -18.8 0.8 22.6 0.7 -19.1 0.8 20.2 0.7 -21.5 0.7 20.9 0.8 -25.8 0.7 22.8 0.7 -24.3 0.8 21.4 0.7 -23.3 0.7 22 0.8 -21.3 0.7 22.8 0.7 -22.8 0.8 22.6 0.7 -24.6 0.7 18 0.7 -23.1 0.8 19 0.7 -23.2 0.7 24.9 0.7 -21.1 0.8 23.3 0.7 -20.6 0.7 24.9 0.7 -18.6 0.7 24.8 0.8 -19.2 0.7 22.9 0.7 -23.8 0.7 21.7 0.7 -21.5 0.7 21.5 0.7 -22.8 0.8 20.9 0.7 -22.9 0.7 21.7 0.7 -23 0.7 24.5 0.7 -25.1 0.7 20.8 0.7 -24 0.7 23 0.7 -26.1 0.7 23.2 0.8 -23.9 0.7 20.7 0.7 -19.6 0.7 22.5 0.7 -20.2 0.7 24.5 0.7 -21.8 0.7 23.2 0.7 -21.4 0.7 21.8 0.7 -20.9 0.7 21.8 0.6 -23.9 0.7 19.9 0.7 -22.1 0.7 23.5 0.7 -22.5 0.7 21.4 0.7 -21.8 0.7 20.8 0.7 -20 0.7 20.1 0.7 -23.3 0.7 20.6 0.6 -20.7 0.7 19.3 0.7 -21.8 0.7 19.6 0.7 -19.8 0.7 22.8 0.6 -19.7 0.7 24.3 0.7 -20 0.7 24.9 0.7 -19.9 0.6 20.5 0.7 -19.6 0.7 19.9 0.7 -20.2 0.6 19.7 0.7 -21.7 0.7 20.1 0.7 -23.1 0.6 21.1 0.7 -22.1 0.7 21.8 0.7 -23.2 0.6 21.2 0.7 -23.9 0.7 19.7 0.6 -21.1 0.7 18 0.7 -22.4 0.6 20.1 0.7 -21.9 0.7 20.3 0.6 -18.7 0.7 20.6 0.6 -17.4 0.7 22 0.7 -18.9 0.6 25 0.7 -19.5 0.6 21.3 0.7 -18.9 0.7 19.7 0.6 -21.6 0.7 20.9 0.6 -20.3 0.7 22.2 0.6 -20.9 0.7 23.4 0.6 -18.8 0.7 21.9 0.6 -22.2 0.7 20.5 0.6 -19.3 0.7 17.1 0.6 -21 0.7 18.7 0.6 -24.7 0.7 18.6 0.6 -22.6 0.7 17.1 0.6 -18.8 0.7 18.8 0.6 -18.9 0.7 21.7 0.6 -19.6 0.7 23.3 0.6 -17.5 0.7 21.3 0.6 -18.9 0.6 22.2 0.7 -18.9 0.6 21.2 0.7 -19.2 0.6 22.9 0.7 -18.2 0.6 19.2 0.7 -17.9 0.6 22.2 0.7 -17.5 0.6 18.8 0.6 -19 0.7 19.3 0.6 -21.1 0.7 19.5 0.6 -22.7 0.7 17.1 0.6 -22.9 0.6 17.2 0.7 -21.9 0.6 16.2 0.7 -18.8 0.6 18.6 0.7 -20.8 0.6 20.2 0.6 -18.2 0.7 20.8 0.6 -20.3 0.7 19.3 0.6 -18.5 0.6 19.2 0.7 -17.3 0.6 18.2 0.7 -19.2 0.6 21.8 0.6 -18 0.7 21.3 0.6 -18.1 0.7 21.5 0.6 -15.6 0.6 18.4 0.7 -16.5 0.6 17.4 0.7 -20.4 0.6 18.2 0.6 -19.6 0.7 18 0.6 -21.2 0.6 18.1 0.7 -19.1 0.6 21.1 0.7 -16.8 0.6 18.3 0.6 -14.9 0.7 20.4 0.6 -19.2 0.6 20.6 0.7 -20.9 0.6 18.2 0.6 -20.7 0.7 17 0.6 -19.5 0.6 18 0.7 -19.8 0.6 20 0.6 -19.4 0.7 19.2 0.6 -14.5 0.6 17.8 0.7 -17.6 0.6 18.7 0.6 -19 0.7 19.6 0.6 -20.4 0.6 17.7 0.7 -20.8 0.6 16.8 0.6 -18.9 0.7 19 0.6 -18.7 0.6 18.6 0.7 -14.8 0.6 18.7 0.6 -17 0.7 20.5 0.6 -17.1 0.6 15.5 0.6 -17.3 0.7 16.4 0.6 -17.6 0.6 16.2 0.7 -17.8 0.6 18.5 0.6 -18.2 0.6 19.3 0.7 -15.4 0.6 18.7 0.6 -16.3 0.7 20.1 0.6 -17.1 0.6 16.3 0.6 -16.3 0.7 13.9 0.6 -18.3 0.6 14.3 0.6 -20.2 0.7 15.9 0.6 -20.1 0.6 16.8 0.7 -18.5 0.6 15 0.6 -18.8 0.6 17.3 0.7 -15.4 0.6 15.5 0.6 -16.1 0.6 18 0.6 -18.9 0.7 18.1 0.6 -16.5 0.6 17.5 0.6 -16.5 0.7 18.9 0.6 -15.5 0.6 19.4 0.6 -15.7 0.7 19.4 0.6 -14.7 0.6 17.7 0.6 -15.5 0.6 16.9 0.7 -16.4 0.6 17.4 0.6 -17.5 0.6 15.4 0.7 -18.9 0.6 14.1 0.6 -18.3 0.6 16.6 0.6 -17.7 0.7 14.1 0.6 -16.8 0.6 18.1 0.6 -18.1 0.6 17.9 0.6 -15.6 0.7 15.4 0.6 -14.7 0.6 16.7 0.6 -18.4 0.6 16.4 0.7 -15.9 0.6 16.5 0.6 -18.9 0.6 17 0.6 -15 0.6 16 0.7 -16.6 0.6 17.1 0.6 -14.9 0.6 17.3 0.6 -13.8 0.6 16.3 0.7 -15.5 0.6 15.4 0.6 -17.1 0.6 17.2 0.6 -16.2 0.6 16.3 0.6 -16.5 0.7 15.5 0.6 -16.4 0.6 16.1 0.6 -15.6 0.6 14.6 0.6 -16.1 0.6 13.7 0.7 -17.6 0.6 12.8 0.6 -18.5 0.6 14 0.6 -16.3 0.6 15.7 0.6 -17.3 0.6 15.7 0.6 -13.5 0.7 17.5 0.6 -15.4 0.6 17.3 0.6 -12.9 0.6 17.1 0.6 -14.8 0.6 17.1 0.6 -16.8 0.6 18 0.7 -17.5 0.6 16 0.6 -16.5 0.6 17.9 0.6 -16.8 0.6 16.2 0.6 -15.6 0.6 15.9 0.6 -15.2 0.6 16.2 0.6 -17.1 0.6 14.9 0.7 -15.1 0.6 13.3 0.6 -17 0.6 14.5 0.6 -18.1 0.6 14.8 0.6 -16.1 0.6 17.7 0.6 -17.1 0.6 17.5 0.6 -14.6 0.6 18.3 0.6 -15.2 0.6 16.6 0.6 -14.5 0.6 16.7 0.6 -16.8 0.7 16.5 0.6 -16.3 0.6 16.3 0.6 -16.9 0.6 16 0.6 -16.4 0.6 17.2 0.6 -15.4 0.6 16.2 0.6 -13.6 0.6 16.2 0.6 -16.8 0.6 16.1 0.6 -18 0.6 15.5 0.6 -19.4 0.6 14.8 0.6 -18.6 0.6 13.6 0.6 -18.4 0.5 16"/>
<path class="c" stroke="#34a96a" d="M165.6 440.0l1.6 -40 1.6 40 1.6 -35 1.6 35 0.6 -13 0.7 -2 0.7 -15 0.7 17.4 0.5 -5.9 0.8 18.5 0.9 -11.9 0.8 -1.8 0.8 -11.3 0.6 13.5 0.8 -2 0.6 13.5 2.4 4.4 0.6 -25.8 0.9 2.5 0.6 -26.1 1.5 25 0.7 -32 0.6 -1 0.7 -31.1 0.6 18.3 0.8 -1.5 0.6 19.3 0.9 -23.4 0.7 5.1 0.9 -23.7 0.6 10.9 0.6 -2.1 0.8 13.2 0.9 -25.1 0.9 1.9 0.7 -21.8 1 14.7 0.5 -1.9 1 15.2 0.8 -18 0.7 5.4 1 -20.4 1 12.3 0.7 0.3 0.8 10.4 0.8 -22.5 0.9 0.6 0.8 -23.1 0.7 11.9 1 5 0.8 13.1 0.8 -21.3 0.9 2.7 0.8 -21.4 0.9 15.5 0.8 -1.4 0.8 13.9 0.9 -21.8 0.8 4.6 0.8 -20.8 1 14.3 0.5 -3.6 1 14.3 0.8 -23.3 1.2 4 1 -25.7 1.1 18.3 0.8 -6.4 1.1 18.1 1 -20.8 0.8 -0.6 1.2 -23.6 1.1 14.6 0.9 -3.7 1 14.1 1.1 -26.5 0.8 -2.3 1.1 -26.2 1 16.4 1.1 -1.6 0.9 15.2 1 -27.1 1 0.3 1 -28.2 0.6 11.8 0.8 1.1 0.6 11.6 0.5 -43.1 1.4 27.6 2 8.6 1.6 29.6 1 -29.3 0.8 9.6 1.2 -32 1.1 9.7 1.3 1.8 0.9 9.1 0.8 -47.4 0.9 37.8 1.1 1 1.2 44.4 1 -17.3 0.9 -1.6 0.9 -16.5 0.6 21.7 0.8 -0.8 0.5 21.8 0.9 -18.6 0.8 0.3 0.7 -16.5 0.9 14.7 0.7 0.1 0.9 14.2 0.6 -4.2 0.6 -0.6 0.8 -5 0.5 27.5 0.8 -0.9 0.5 27.2 0.8 -20.8 0.7 1.7 0.8 -20.8 0.9 20.4 0.9 3.4 0.8 17.9 0.6 -16.6 0.8 -6.4 0.8 -17.8 1 16.8 0.7 0.4 1.1 18.5 3.2 -4.5 1 19.3 1 -1 1.3 22.9 0.6 -18.3 0.6 5.8 0.8 -21.4 1.2 11.1 0.8 -2.3 1.3 11.4 0.8 -16.1 1 1.6 0.9 -17.9 0.8 26.5 0.5 -0.7 0.8 25.3 1.1 -10.4 1 1.4 0.9 -8.8 1 13.9 1 -1.6 1.3 16.5 1.1 -23.3 0.9 3 1.1 -24.4 1.3 28.5 0.8 -8.7 1.2 26.8 0.9 -14.3 0.5 5 0.8 -13.5 0.9 27.7 0.9 0.8 0.7 25 1.1 -31.8 1 7.5 0.8 -27.3 0.8 20.4 0.5 -5.5 0.6 18.2 1.1 -11.7 0.9 2.7 1 -11.1 1 19.7 0.9 -0.2 0.9 18.4 1.2 -19.2 1 0.4 0.9 -16.1 0.9 14.9 0.7 -0.7 0.8 12.8 0.8 -18.1 0.5 1.7 0.8 -17.4 1 12.6 0.7 0.8 0.9 12.1 0.9 -16.8 0.9 0.8 1.1 -18.2 0.6 27.7 0.6 -7.5 0.8 32.8 1 -14.4 1 1.1 1.1 -14.7 0.9 18.7 0.8 0.5 0.8 16.9 1 -27.8 1.3 2.3 1.2 -31 1 18.9 0.9 3.9 0.9 17.3 0.9 -11.7 1.2 -1.2 1 -12 0.6 25.4 0.6 -4.9 0.7 26.6 0.8 -21.1 0.8 -1.9 0.7 -18.8 0.8 14.6 0.6 -2.2 0.8 15.4 0.8 -13.6 0.8 -2.8 1 -15.8 0.7 45.8 1.6 -22.8 1.4 -4.2 1.6 -23.2 0.7 18.7 0.5 -2.9 0.6 17.1 0.7 -4.7 0.8 0.7 0.9 -5.3 1 9.9 0.6 1.3 0.8 8.7 0.9 -15.3 0.8 1.7 0.8 -14.1 0.9 11.2 0.8 0.3 0.8 10.3 1.1 -23.8 1.1 3.9 0.9 -21.1 1 20.3 0.6 -5.7 1 20.7 0.8 -14 0.6 4.2 0.7 -13.2 0.7 17.8 0.7 -1.6 0.7 17.5 0.6 -15.7 0.8 0.3 0.6 -16.1 0.7 16.4 0.7 -1.2 0.8 19.5 0.9 -19.2 0.9 3.7 1.1 -21.9 0.8 10 1.1 1.5 0.9 9.8 0.5 -10.6 0.8 -4.3 0.6 -11.2 0.6 17.3 0.6 3.4 0.6 18.4 0.6 -13.5 0.7 0.2 0.6 -12.9 0.8 15.3 0.9 -2.5 0.7 13.6 0.6 -14 0.6 4.3 0.7 -14.3 0.7 11.8 0.8 1.2 0.9 13.2 0.8 -13.3 0.8 -1.7 0.9 -14.7 0.7 10.1 0.6 -1 0.7 10.9 0.9 -7.6 0.7 -1.7 0.9 -7.7 0.8 14.4 1 2.8 0.9 15.3 1.6 -21.2 0.6 12.2 0.7 -2.6 0.7 13.4 1 -11.1 0.7 2.8 1.1 -11.6 0.8 10.6 0.6 -2.5 0.6 9.6 0.8 -12.8 0.8 0.7 0.7 -12.1 0.7 8.3 0.6 0.2 0.9 9.6 0.7 -12.7 0.7 -1 0.6 -11 0.6 12.3 0.5 -2.6 0.7 14 0.8 -7.7 0.6 -1.1 0.8 -8.2 0.8 14.4 0.9 -1.8 0.8 14.6 1 -8.6 0.9 -0.1 0.8 -7.4 1 16.9 0.8 -3.9 0.8 14.8 1.7 -24 1.6 13.1 0.8 -14.4 0.8 3 0.8 -13.7 0.7 6.1 0.7 1.1 0.7 5.4 0.7 -3.3 0.6 0 0.6 -3.1 1.7 18.4 0.9 -8.6 0.8 -2.1 0.8 -7.2 0.8 13.7 0.5 0.9 0.8 14.3 1.5 -16.8 0.7 13 0.8 -0.7 0.7 12.3 1.6 -23.6 1.6 13.2 0.7 -12.2 0.7 2.7 0.6 -10.4 1.5 22.7 1.5 -23.4 1.6 18.1 1.5 -12.8 1.4 22.2 1.6 -13 0.7 9.7 0.4 0.9 0.6 9.3 1.3 -16.5 1.4 24.5 0.6 -11 0.6 -1.1 0.6 -11.5 1 19.2 1.7 -7.8 0.5 6.8 0.7 0.3 0.5 6.2 1.6 -12.2 1.3 11.4 0.9 -20.4 1.3 19.6 1.1 -23.8 0.9 26.4 1.5 -17.9 1.4 14.9 1.1 -16.4 1.4 14.7 0.8 -17 1.2 18.4 1 -17.9 1.3 23.8 0.8 -17.7 1.1 19.1 0.8 -19.7 1.3 17.1 1.1 -22.5 1.1 19.4 1.1 -17.5 1.2 19.1 1 -15.8 0.9 19 1 -20.7 1 21.8 1 -21.9 0.9 19.4 1 -24.4 0.9 20 1 -18.3 0.9 21.2 1 -17.9 0.9 20.6 0.9 -24.7 0.9 21.5 0.9 -25 0.9 21.5 0.9 -24.7 0.9 20.7 0.9 -14.6 0.9 21.5 0.9 -18.1 0.9 21.5 0.9 -18.3 0.8 23.8 0.9 -25.2 0.9 22.1 0.9 -21.5 0.9 17.2 0.9 -20.3 0.8 20.1 0.9 -24.1 0.9 22.4 0.9 -26.5 0.8 15.6 0.9 -22.7 0.9 18.4 0.9 -17.3 0.8 22.1 0.9 -22.9 0.9 24.2 0.8 -15.2 0.9 23.7 0.8 -21.4 0.9 23.5 0.9 -23.3 0.8 20.5 0.9 -18.3 0.8 23.1 0.9 -21.7 0.8 21.7 0.9 -21.3 0.8 19.7 0.9 -23.5 0.8 17.8 0.9 -23.8 0.8 19.2 0.8 -22 0.9 18.5 0.8 -20.6 0.9 20.1 0.8 -18.8 0.8 22 0.9 -20.9 0.8 21.1 0.8 -19.2 0.9 19 0.8 -19.9 0.8 22.1 0.8 -20.4 0.9 21.2 0.8 -19.1 0.8 19.9 0.8 -17.4 0.8 16.9 0.9 -19 0.8 16.2 0.8 -19.5 0.8 16.6 0.8 -20.9 0.8 19 0.8 -18 0.8 19.8 0.8 -16.6 0.9 18.8 0.8 -17.5 0.8 19 0.8 -16.9 0.8 16.9 0.8 -15.9 0.8 17.3 0.8 -18.6 0.7 18.8 0.8 -17.4 0.8 19.8 0.8 -19.5 0.8 15.4 0.8 -18.3 0.8 15 0.8 -20.3 0.8 14.9 0.7 -19.5 0.8 16 0.8 -17.6 0.8 19.3 0.8 -16 0.7 17.4 0.8 -15.4 0.8 18.4 0.8 -18.6 0.7 20.8 0.8 -18.7 0.8 19.7 0.7 -18.4 0.8 19.5 0.8 -16.2 0.7 19.8 0.8 -18.5 0.8 16.4 0.7 -19.7 0.8 17.3 0.7 -22.1 0.8 14.7 0.8 -22 0.7 16 0.8 -20.3 0.7 15.6 0.8 -17.9 0.7 16.5 0.8 -17.8 0.7 17.6 0.8 -18.7 0.7 18.1 0.8 -18.9 0.7 19.4 0.7 -17.9 0.8 19.7 0.7 -17.6 0.8 19.7 0.7 -16.9 0.7 22.9 0.8 -17.8 0.7 20 0.8 -19.4 0.7 17.3 0.7 -21.1 0.8 15.8 0.7 -20.9 0.7 15 0.8 -20 0.7 17.4 0.7 -20.4 0.8 18 0.7 -18.8 0.7 16.9 0.8 -18.5 0.7 17 0.7 -18.9 0.7 18.7 0.8 -22 0.7 18.7 0.7 -16.4 0.7 20.7 0.8 -16.9 0.7 19.1 0.7 -16.8 0.7 23.6 0.7 -17.5 0.7 19.7 0.8 -18.5 0.7 18.6 0.7 -18 0.7 16.9 0.7 -20.4 0.7 18.7 0.8 -16.8 0.7 19.5 0.7 -21.2 0.7 20.8 0.7 -19.8 0.7 18.7 0.7 -19.4 0.7 19.2 0.7 -22.6 0.7 18.5 0.7 -19.3 0.7 20.5 0.7 -18.4 0.7 19.5 0.7 -18.7 0.8 20.7 0.7 -16.9 0.7 19.6 0.6 -18.4 0.7 20.8 0.7 -19.1 0.7 16.1 0.7 -18.2 0.7 18.3 0.7 -21.6 0.7 18.9 0.7 -19.2 0.7 19.1 0.7 -20.6 0.7 20.3 0.7 -18.8 0.7 18.3 0.7 -21.1 0.6 19.6 0.7 -19.8 0.7 19.9 0.7 -18.9 0.7 22.6 0.7 -20.1 0.7 22.2 0.6 -18.5 0.7 24.5 0.7 -20.2 0.7 23.7 0.7 -20.6 0.6 21.6 0.7 -20.8 0.7 18.7 0.7 -20.4 0.6 18.5 0.7 -19.6 0.7 19.6 0.7 -20.6 0.6 20.2 0.7 -20.7 0.7 21.1 0.7 -20.4 0.6 18.8 0.7 -22.5 0.7 19 0.6 -20.5 0.7 19.8 0.7 -19.2 0.6 21.4 0.7 -18.1 0.7 21 0.6 -16.5 0.7 23.1 0.6 -18.1 0.7 22.5 0.7 -16.1 0.6 20.6 0.7 -17.7 0.6 21.7 0.7 -19.6 0.7 20.4 0.6 -18.8 0.7 17.9 0.6 -19.2 0.7 22.3 0.6 -20.4 0.7 20.4 0.6 -21.1 0.7 20.7 0.6 -22.3 0.7 18.3 0.6 -21.8 0.7 18.5 0.6 -20.4 0.7 17.4 0.6 -18.8 0.7 19 0.6 -17.7 0.7 19.1 0.6 -15.1 0.7 20.9 0.6 -15.4 0.7 18.9 0.6 -16.4 0.7 22.4 0.6 -19.6 0.7 20.1 0.6 -16 0.7 19.6 0.6 -17.9 0.6 20.3 0.7 -17.8 0.6 18.8 0.7 -17.3 0.6 19.7 0.7 -18.8 0.6 16.9 0.7 -19.3 0.6 18 0.7 -23.5 0.6 17.9 0.6 -22 0.7 17.3 0.6 -19.6 0.7 17.6 0.6 -20.1 0.7 20.3 0.6 -20.4 0.6 18.8 0.7 -17.3 0.6 18.7 0.7 -16.6 0.6 17.6 0.7 -16.9 0.6 18 0.6 -18.2 0.7 20 0.6 -17.9 0.7 19.4 0.6 -16.6 0.6 19.8 0.7 -17.3 0.6 20 0.7 -18.1 0.6 18.3 0.6 -17.6 0.7 15.4 0.6 -20.5 0.7 18.9 0.6 -21 0.6 18.2 0.7 -22 0.6 19.8 0.6 -18.7 0.7 19.2 0.6 -20.8 0.7 21.2 0.6 -20.5 0.6 20.5 0.7 -18.9 0.6 17.2 0.6 -17.1 0.7 16.5 0.6 -17.7 0.7 20 0.6 -18.9 0.6 20.9 0.7 -19.2 0.6 21.2 0.6 -19.3 0.7 21.7 0.6 -18.9 0.6 16.9 0.7 -19.2 0.6 20 0.6 -20.4 0.7 15.5 0.6 -18.4 0.6 16.9 0.7 -18.8 0.6 18.5 0.6 -19.9 0.7 20.1 0.6 -18.9 0.6 21.1 0.7 -19 0.6 20.7 0.6 -18.6 0.7 19 0.6 -20.8 0.6 20.8 0.6 -19.2 0.7 20.5 0.6 -19.2 0.6 22.2 0.7 -18.5 0.6 21.6 0.6 -18.6 0.7 20.6 0.6 -16.9 0.6 17.8 0.6 -18.3 0.7 15.7 0.6 -19.4 0.6 17.8 0.7 -21.5 0.6 16.5 0.6 -18.4 0.6 17.9 0.7 -19.6 0.6 19.8 0.6 -18.6 0.6 20.3 0.7 -18.9 0.6 19.3 0.6 -17.5 0.6 20.8 0.7 -18.2 0.6 17 0.6 -16.5 0.6 19.1 0.7 -18.9 0.6 20.1 0.6 -18.6 0.6 19.1 0.7 -15.7 0.6 18.8 0.6 -15.5 0.6 17 0.7 -15.6 0.6 16.7 0.6 -19.1 0.6 15.5 0.7 -19.3 0.6 15.6 0.6 -18.3 0.6 16 0.6 -18.2 0.7 15.8 0.6 -20.1 0.6 17.6 0.6 -18.8 0.7 16.3 0.6 -20.3 0.6 17.3 0.6 -18.4 0.6 15.7 0.7 -20.1 0.6 17.2 0.6 -17.2 0.6 18.5 0.6 -15.4 0.7 17.6 0.6 -14 0.6 18.4 0.6 -14.1 0.6 18.7 0.6 -15.6 0.7 17.2 0.6 -13.7 0.6 15.7 0.6 -17 0.6 17 0.6 -16 0.7 15.4 0.6 -17.8 0.6 16.3 0.6 -16 0.6 16.2 0.6 -16.7 0.7 15 0.6 -16 0.6 14.4 0.6 -18.9 0.6 14.2 0.6 -17.7 0.7 15.5 0.6 -19.1 0.6 15 0.6 -16 0.6 16.4 0.6 -14.6 0.6 16.6 0.7 -14.6 0.6 17.7 0.6 -14.3 0.6 18.4 0.6 -15 0.6 17.2 0.6 -16.5 0.6 17.7 0.7 -16.8 0.6 16.9 0.6 -16.6 0.6 15.3 0.6 -14.2 0.6 17.3 0.6 -16.9 0.6 17.8 0.6 -15.9 0.6 16 0.7 -17.5 0.6 14.2 0.6 -15.4 0.6 13.1 0.6 -17.7 0.6 14.4 0.6 -16 0.6 16.9 0.6 -17.3 0.6 17.3 0.6 -14.9 0.7 16 0.6 -12.8 0.6 15.2 0.6 -14.1 0.6 17.2 0.6 -16 0.6 15.4 0.6 -15.6 0.6 15.3 0.6 -16.3 0.6 15 0.6 -14.8 0.6 14.1 0.6 -15.2 0.7 16 0.6 -13.9 0.6 14.7 0.6 -15.1 0.6 13.3 0.6 -16.4 0.6 13.5 0.6 -15.2 0.6 13.1 0.6 -17.8 0.6 15.2 0.6 -16.1 0.6 14.7 0.6 -13.6 0.6 15 0.6 -14 0.6 17.5 0.6 -13.9 0.6 17.8 0.6 -14.2 0.6 15.7 0.6 -13.9 0.6 14.9 0.6 -14.5 0.6 14.4 0.6 -14.6 0.6 15.5 0.2 -12.4"/>
<path class="c" stroke="#a07dc0" d="M165.4 441.0l1.2 -81 1.2 79.5 1.5 -97.3 1.3 57.8 1.2 -35 1.4 74 0.8 -33.6 0.7 8.1 0.8 -33.5 1.5 59.5 1.2 -87.5 1.4 43 0.7 -25.2 0.5 7.1 0.7 -26.9 0.8 37.4 0.5 -1.2 0.7 33.8 0.8 -42.2 0.9 3.1 0.8 -40.9 0.7 -8.1 1 -2.4 0.8 -8.5 0.8 18.3 0.4 -5.2 0.8 17.9 0.9 -15.4 0.6 4 1 -15.6 0.7 12.1 0.7 -3 0.6 10.9 0.6 -13.8 0.8 0.9 0.6 -14.1 0.8 9.5 0.8 0 0.9 10.5 1.2 -18.2 0.9 5.3 1.4 -20.1 0.7 14.2 0.7 -1.5 0.6 12.3 0.9 -18.1 1.2 -4.2 0.9 -17.7 0.8 13.4 0.9 1.4 0.8 13.2 1.2 -24.9 0.8 -1.6 1 -21.5 0.8 13 0.8 2.9 0.9 14.1 1 -21.9 0.9 0.5 1.1 -23.6 0.9 13.2 0.8 -0.6 0.8 12.4 0.8 -23.4 1 -0.1 0.7 -21.5 1.1 18.5 1 -2.5 0.9 17 1.1 -22.5 0.7 3.4 1.2 -23.9 0.8 18.6 1.3 -0.3 0.9 18.7 1.2 -18.3 0.8 0.4 1 -16.1 1 18.4 0.9 -2.9 1.1 18.5 1 -39.9 0.9 13.5 1.2 -42.5 0.8 4.5 0.9 0.8 0.8 4 1 -10.7 1.2 1.4 0.9 -9.5 0.9 8.4 0.9 1.1 0.9 8.8 1.2 -15.7 0.9 2.8 1.1 -14.4 2.6 5.7 0.8 -23 0.7 4 0.7 -20.2 1 21.4 0.9 -3.7 0.8 20.1 0.5 -64.9 1.1 37.4 1.3 7.1 1.3 42.5 0.9 -14.5 1 -3.9 0.7 -13.6 1 9.5 0.7 -1.4 0.9 9.3 1.2 -42 0.7 12 1.2 -43.3 1.2 35.1 0.8 -10.7 1 31 1.4 -63.2 1 45.1 1.4 12.3 1 46.4 1.3 -39.5 1.2 2.2 1.1 -36.8 1.5 51.5 0.8 -14.9 0.9 -1.1 0.7 -13.9 1.1 18.5 1.1 5.8 1 16.7 0.9 -18.1 0.7 2.9 0.8 -15.9 1 22.4 0.7 0.5 1 21.3 0.6 -35.6 0.6 9.6 0.8 -40.5 1 35.6 0.8 -7.6 1.1 37.2 0.6 -96.6 2.3 77.6 1.8 8 1.7 61.3 0.6 -51.6 0.5 10.5 0.8 -59.9 1 33.2 1.4 12.3 0.9 31.5 1 -20.8 0.6 3.8 0.8 -19.3 0.9 31.1 0.9 -2.6 1.1 36.7 1.5 -39.5 1.3 6.9 1.7 -43.2 0.7 114.8 2 -64.1 1.4 10.2 1.7 -57.7 1 63.7 1.3 -28 1.6 5.1 1.4 -29.1 0.7 71 1 -13 0.6 2.6 0.9 -12.4 0.8 26.8 1.1 8.6 0.8 25.3 1 -46.4 0.6 16.1 1 -47.1 1 23.7 0.9 0.1 1.2 26.4 0.8 -38.4 0.9 5.2 0.9 -41.1 1.5 72.7 0.7 -21.2 0.5 4.9 0.8 -23.8 0.7 31.1 0.9 9.7 0.7 30.9 1.2 -74.6 0.9 48 1.3 -1.5 0.9 48.6 0.9 -25.3 0.6 3.5 0.9 -26.1 0.7 10.3 0.8 0.8 0.8 11.7 1.3 -28.7 1.5 -8 1.1 -25.8 1.4 73.9 0.8 -16.9 1 -3.5 1.1 -21.5 0.9 21.6 1.1 7.2 0.8 20.7 0.6 -12.8 0.7 -4.8 0.7 -14.2 1 7.7 0.8 -1.2 1.1 8.2 0.8 -47.8 1.8 47.7 1.7 -7.5 1.6 44.3 1.1 -21.7 0.6 1.9 1.2 -21.3 0.7 19.8 0.5 2.4 0.6 18.6 0.9 -21.4 0.7 0.7 0.7 -19.7 0.6 17.3 0.7 -3.3 0.7 20 0.6 -30.9 0.6 9.4 0.7 -33.9 0.9 17.2 0.8 -2.3 0.7 15.3 0.7 -50.5 1.2 45 0.9 -2.8 1 39.8 0.8 -19.1 0.7 1.8 0.9 -20.8 1 31 0.6 -7.4 1 30.5 0.7 -10.9 0.8 -0.6 0.9 -12.3 0.9 16.5 0.8 -4.2 1.1 18.1 0.6 -28.6 0.5 3.4 0.7 -31.7 0.7 13.7 0.6 2 0.6 13.8 0.8 -27.2 0.5 9.3 0.9 -27.7 0.6 28.4 0.8 -2.5 0.7 29.6 1 -24.7 0.9 5.6 1.1 -25.7 0.7 21.5 1 0 0.8 22.6 0.7 -8.1 0.6 1.6 0.6 -7.1 0.6 20.2 0.8 -4.6 0.8 22.5 0.6 -21.4 0.7 -1.8 0.5 -21.3 0.7 16.3 0.5 2.6 0.6 14 0.8 -27.9 1 5.5 0.9 -28.2 0.7 19.6 0.8 -2.7 1 22.2 0.7 -21 1 -5 0.8 -21.6 1.6 37.2 0.7 -8.7 0.7 -0.3 0.6 -8.1 0.7 22.3 0.7 2.9 0.6 19.2 1.6 -28.6 1.5 23.4 1.6 -33.6 1 15.7 0.7 -0.9 0.8 13.8 0.9 -20.5 0.9 1.3 0.8 -18.1 0.9 21.9 0.4 -2.7 0.9 22.1 0.7 -19.1 0.5 -0.4 0.8 -20.3 1.6 34.9 0.9 -15.9 0.8 -0.5 0.8 -14 1.5 40.3 1.4 -21.1 0.6 14.4 0.6 -2.2 0.8 17.7 0.9 -19.6 0.6 3.5 0.8 -17.3 0.6 9.7 0.9 4.9 0.6 9.7 0.6 -14.8 1 -7.2 0.6 -14.8 0.7 17.1 0.6 -1.6 0.6 16.8 1.3 -24.3 0.7 23.2 0.4 -8.2 0.7 23.1 1.5 -25.4 1.3 36.4 0.6 -16.7 0.5 0.7 0.7 -18.3 0.6 18.9 0.6 -1.3 0.5 16.1 1.1 -36.6 0.7 15.5 0.5 -3.1 0.6 14.5 1.1 -26.7 1.4 35.8 1.5 -42.5 1 30.6 0.9 -24.7 1.2 17.8 1.2 -30 1.4 34 1.4 -32.7 0.9 40.7 1.2 -33.8 1.1 35 1 -28.7 1 41.3 1.2 -36.3 1.3 30.5 1.3 -32.2 1.1 34.9 0.9 -38 0.8 31.1 1.2 -34.2 1.2 31.2 1.3 -40 0.8 29.8 1.1 -32.1 0.9 30.2 1.1 -32.9 1 37.2 0.9 -25.2 1 34.5 1 -29.8 1 33.2 0.9 -28.9 1 25.9 0.9 -28.7 1 34.3 0.9 -25.8 0.9 28.9 1 -25.3 0.9 27.4 0.9 -31.9 0.9 22.9 0.9 -30.1 0.9 26.9 0.9 -32.5 0.9 21.8 0.9 -28.2 0.8 28.8 0.9 -32.1 0.9 29 0.9 -25.5 0.9 30.1 0.9 -21.3 0.9 23.9 0.8 -20.2 0.9 31 0.9 -25.4 0.9 29.7 0.9 -26.4 0.8 27.5 0.9 -24.3 0.9 23.3 0.8 -24.9 0.9 21.5 0.9 -23.2 0.8 19.5 0.9 -24.6 0.9 23.9 0.8 -22.1 0.9 23.3 0.9 -21.1 0.8 21.4 0.9 -22.8 0.8 26 0.9 -24.3 0.8 23.7 0.9 -20.6 0.8 23.3 0.9 -24.2 0.8 23.9 0.9 -20.2 0.8 21.4 0.8 -23.1 0.9 21.7 0.8 -23.8 0.9 21.6 0.8 -27.7 0.8 22.9 0.9 -22.5 0.8 20.4 0.8 -22.7 0.9 23.1 0.8 -21.4 0.8 22.8 0.8 -21.1 0.9 23.7 0.8 -20.1 0.8 19.4 0.8 -19.7 0.9 23.6 0.8 -21 0.8 24.9 0.8 -18.5 0.8 21.9 0.8 -19.8 0.8 17.8 0.9 -19.4 0.8 17.3 0.8 -22 0.8 17.4 0.8 -23.5 0.8 18.3 0.8 -18.5 0.8 17.5 0.8 -20.4 0.8 21.3 0.8 -20.8 0.8 20.1 0.8 -19.1 0.8 19.9 0.8 -20 0.7 21.1 0.8 -17.5 0.8 20.3 0.8 -15.7 0.8 21.2 0.8 -14.1 0.8 19.7 0.7 -16.5 0.8 20 0.8 -18.9 0.8 18.9 0.8 -20 0.7 17.2 0.8 -21.8 0.8 17.6 0.7 -18.9 0.8 17.2 0.8 -19.1 0.8 17.2 0.7 -19.9 0.8 18.6 0.7 -20.2 0.8 15.5 0.8 -19.5 0.7 19.5 0.8 -20.7 0.7 22.1 0.8 -17 0.8 19.3 0.7 -14.7 0.8 20.5 0.7 -15.9 0.8 19.9 0.7 -17 0.8 19.2 0.7 -18.6 0.8 17.4 0.7 -17.7 0.8 16.7 0.7 -17.7 0.7 17.5 0.8 -17.5 0.7 16 0.8 -17.5 0.7 17.7 0.7 -20.6 0.8 16.7 0.7 -20.1 0.8 17.3 0.7 -19.7 0.7 15.6 0.8 -18.3 0.7 20.6 0.7 -18.8 0.8 21.8 0.7 -18.6 0.7 20.4 0.8 -16.5 0.7 19.1 0.7 -18 0.8 17.1 0.7 -17.1 0.7 18.5 0.7 -18.5 0.8 16.5 0.7 -17.5 0.7 20.3 0.7 -19.9 0.7 20.6 0.8 -20.3 0.7 19.4 0.7 -18.5 0.7 16.1 0.7 -18.6 0.8 17.8 0.7 -19.2 0.7 17.9 0.7 -20 0.7 19 0.7 -15.7 0.7 19.1 0.8 -15 0.7 18.8 0.7 -15.8 0.7 19.4 0.7 -18.3 0.7 17.6 0.7 -18.2 0.7 16.9 0.7 -18 0.7 18.5 0.7 -18.3 0.7 17.1 0.7 -16.5 0.7 17.9 0.7 -18.7 0.7 17.9 0.7 -19.8 0.7 18.1 0.7 -19.4 0.7 16.5 0.7 -19.2 0.7 16.9 0.7 -19.4 0.7 20.1 0.7 -17.1 0.7 18.5 0.7 -15.7 0.7 19.7 0.7 -16.4 0.7 20.9 0.6 -18.5 0.7 20.7 0.7 -19.2 0.7 21 0.7 -18.5 0.7 18.1 0.7 -17.2 0.6 17.9 0.7 -18.5 0.7 19.5 0.7 -19.3 0.7 18.3 0.7 -18.7 0.6 16 0.7 -19.2 0.7 16 0.7 -21.7 0.6 17.7 0.7 -22.9 0.7 18 0.7 -21.1 0.6 18.2 0.7 -16.5 0.7 17.5 0.7 -18.1 0.6 19.6 0.7 -16.4 0.7 20.6 0.6 -17.4 0.7 19.3 0.7 -19 0.6 19.5 0.7 -15.8 0.7 17.9 0.6 -15.7 0.7 19.7 0.7 -18.8 0.6 20.3 0.7 -17.5 0.6 20.4 0.7 -18.9 0.7 20 0.6 -21.1 0.7 17.3 0.6 -19.2 0.7 13.9 0.6 -20.3 0.7 18.2 0.6 -21.7 0.7 17.7 0.7 -19.7 0.6 17.4 0.7 -18.1 0.6 18.4 0.7 -16.7 0.6 16.7 0.7 -18 0.6 20.2 0.7 -19.7 0.6 18.7 0.6 -17.6 0.7 18.7 0.6 -17.4 0.7 19.2 0.6 -16.4 0.7 21.4 0.6 -18.2 0.7 20.9 0.6 -15.7 0.7 20 0.6 -17.7 0.7 17 0.6 -17.2 0.7 16.6 0.6 -19.1 0.7 17.3 0.6 -19.7 0.6 16.3 0.7 -18.9 0.6 19.7 0.7 -18.5 0.6 17.1 0.7 -18.2 0.6 19.7 0.7 -19.3 0.6 17.2 0.6 -19.1 0.7 18.3 0.6 -17.3 0.7 17 0.6 -19 0.7 18.5 0.6 -16.6 0.6 20.1 0.7 -18.1 0.6 19.4 0.7 -15.5 0.6 17.5 0.7 -16.4 0.6 18.3 0.6 -16.4 0.7 16.8 0.6 -19.2 0.7 17.8 0.6 -21 0.6 18.6 0.7 -18.4 0.6 16.8 0.7 -19.7 0.6 19.9 0.6 -19.6 0.7 19.5 0.6 -19.2 0.7 18.2 0.6 -18.1 0.6 18.8 0.7 -18 0.6 17.2 0.6 -17.8 0.7 18.5 0.6 -18.4 0.7 18.9 0.6 -17.6 0.6 18.9 0.7 -15.9 0.6 18.9 0.6 -17.3 0.7 19.1 0.6 -15.9 0.6 16.6 0.7 -16.9 0.6 17.8 0.6 -20.7 0.7 17.8 0.6 -21.3 0.7 16.5 0.6 -17.7 0.6 16.8 0.7 -18.2 0.6 17.4 0.6 -19.2 0.7 16.9 0.6 -18.5 0.6 19.8 0.7 -20 0.6 18.5 0.6 -19.9 0.6 17.8 0.7 -17.7 0.6 17.4 0.6 -18.6 0.7 19.8 0.6 -15.5 0.6 20.2 0.7 -15.7 0.6 20.4 0.6 -17.7 0.7 22.2 0.6 -18.2 0.6 18.7 0.6 -17.2 0.7 18.5 0.6 -19.3 0.6 17.5 0.7 -17.9 0.6 18.5 0.6 -20.5 0.6 16.7 0.7 -16.9 0.6 15.7 0.6 -18.5 0.7 19.1 0.6 -20.7 0.6 16 0.6 -19.3 0.7 18 0.6 -20.8 0.6 18.3 0.6 -18.9 0.7 17.2 0.6 -18.4 0.6 17.1 0.7 -16.7 0.6 19.5 0.6 -16.3 0.6 20.3 0.6 -16 0.7 20.9 0.6 -15.4 0.6 18.5 0.6 -15.6 0.7 18.9 0.6 -18.7 0.6 18.7 0.6 -16.8 0.7 18.3 0.6 -18.6 0.6 18.2 0.6 -19.3 0.7 20.7 0.6 -20.6 0.6 18.2 0.6 -18.7 0.6 17.2 0.7 -19.5 0.6 17.8 0.6 -20.5 0.6 16.8 0.6 -20.2 0.7 15.5 0.6 -19 0.6 17.2 0.6 -18.1 0.6 17.8 0.7 -19 0.6 19.4 0.6 -15.2 0.6 17.6 0.6 -17 0.7 19.7 0.6 -18.5 0.6 18.9 0.6 -17.7 0.6 17.9 0.6 -15.8 0.7 17.7 0.6 -17.4 0.6 19.4 0.6 -18.1 0.6 18.4 0.6 -15.7 0.7 17.5 0.6 -16.9 0.6 16.6 0.6 -16.9 0.6 16.7 0.6 -19.1 0.7 16.3 0.6 -19.3 0.6 15.9 0.6 -20.7 0.6 18.1 0.6 -18.9 0.6 18.2 0.7 -18 0.6 17.9 0.6 -16.3 0.6 18.8 0.6 -17.9 0.6 19.1 0.6 -17 0.7 18.4 0.6 -17.8 0.6 17.4 0.6 -17.3 0.6 16.5 0.6 -16.6 0.6 16.8 0.6 -17.8 0.6 19.1 0.7 -18 0.6 18.9 0.6 -16.4 0.6 19.7 0.6 -19.7 0.6 17.9 0.6 -19 0.6 17.3 0.6 -20.4 0.6 17.9 0.7 -21.1 0.6 18 0.6 -16.9 0.6 16.1 0.6 -16.7 0.6 18.4 0.6 -17.4 0.6 20.2 0.6 -18.1 0.6 20 0.6 -16 0.6 19.1 0.6 -18.4 0.7 18.2 0.6 -17.8 0.6 18.7 0.6 -18.7 0.6 19.8 0.6 -17.7 0.6 20.2 0.6 -18 0.6 19.6 0.6 -19.8 0.6 21.2 0.6 -19.1 0.6 18 0.6 -19.3 0.6 15.6 0.6 -19.5 0.6 16 0.6 -19.6 0.6 17.4 0.6 -20.6 0.7 18.2 0.6 -18.9 0.6 16.3 0.6 -16.9 0.6 18.8 0.6 -20.2 0.6 20.3 0.6 -16.5 0.6 18.7 0.6 -19.3 0.6 19.6 0.6 -18.9 0.6 18.9 0.5 -6.5"/>
<path class="c" stroke="#c8962a" d="M165.2 442.6l1 -99.1 1.2 61.5 1 -40 1.6 71 1.2 -18 1.2 18 0.8 -35.8 0.7 6.5 0.7 -34.7 1.5 -30.4 1.5 50.4 1 -56.2 0.8 -1.5 0.8 -46.1 0.6 25.6 0.6 -5.1 0.6 26.3 1 -18.5 0.5 2.2 1 -18.7 0.8 28.1 0.5 -4.2 0.7 26.1 0.7 -24.3 0.9 -6.5 0.9 -29.2 1.1 -15.5 0.8 4.7 0.9 -14.3 0.8 21.2 0.6 1.5 0.8 22.4 0.8 -13.3 0.9 0.8 0.8 -12.5 0.7 15.4 0.5 2.1 0.8 17.5 0.8 -25.8 0.7 5.5 1 -29.7 0.9 -21.4 0.6 3.6 1 -23.4 0.8 21.3 0.8 -2.1 0.9 24 0.9 -14.3 0.7 -2.4 0.9 -15.3 1 21.1 0.7 -4.3 0.8 18.2 0.6 -16.5 0.6 5.1 0.8 -18.6 0.8 -9.5 0.8 -0.7 0.6 -8.1 0.9 18.4 0.7 4.2 0.7 15.7 0.9 -14.2 0.6 4.2 1 -15 1.2 -27.7 1.2 5 1 -24.6 0.8 23.7 1 -0.5 0.8 24.1 1.2 -13.8 0.8 1.1 1 -12.3 1.1 17.8 1 1.8 0.9 15.4 1.5 -38.7 1.4 -4 1.6 -40.1 1.4 29 0.7 0.2 1.4 28.6 0.7 -25.1 0.6 -1.5 0.9 -27.6 0.8 7.9 0.9 1.1 1 9 0.7 -17.2 0.9 0 0.7 -16.7 0.9 11.3 0.9 -2.5 1.2 13.4 0.8 -10.1 0.6 -1.8 0.9 -10.6 0.8 17.1 0.9 -4.3 0.9 18.9 1.2 -65.8 1.8 25.9 1.5 1.7 2 27.6 0.8 -28.5 0.5 1.8 0.7 -27 0.7 16.6 0.9 2 0.8 18 0.7 -12.4 0.9 -4.1 0.6 -12.2 0.9 33.2 0.7 -4.4 0.8 32.1 1.2 -90.5 1.9 38.3 2.4 12.3 2.5 46.1 0.3 -76.1 1.1 35.4 0.6 -9 1.1 37.2 0.7 -21.8 0.7 -3.3 0.8 -25.1 1.1 59 0.9 -2.5 0.9 52.2 1.2 -97 1.5 58.3 1.2 -3.3 1.3 52.4 1.4 -86.4 1.1 47.2 0.8 -14.4 1.2 49.3 0.9 -17.9 0.9 -4.3 0.9 -18 1.1 31.7 1 -7.7 0.9 28.2 0.9 -18.5 1.2 1.7 1.1 -21.2 1 26.8 0.5 0.7 0.9 25.9 0.7 -36.8 0.7 3.1 0.8 -41.5 1 57.1 0.8 -8.8 0.9 55.1 0.7 -32 0.5 9.4 0.8 -33 1.1 16.5 0.9 -0.1 1.1 16.7 0.9 -15.9 0.9 -1.8 1.1 -18.6 0.9 13.3 0.4 -2.2 0.9 13.5 1.1 -6.9 1.1 -1.2 0.9 -6 0.6 22.2 0.7 2 0.8 23.6 0.6 -17.6 0.8 -1.2 0.8 -19.9 1 28.4 0.6 -4.3 1 26.6 0.5 -13.3 0.6 -3.4 0.8 -16.9 1.1 6.1 0.7 0.1 1.1 5.8 0.7 -23.8 0.4 3.7 0.7 -22.9 1 38.4 1 -4.2 1.2 42.1 0.6 -13.7 0.8 -3.9 0.6 -14 0.7 30.4 0.9 -2.7 0.5 27.4 0.6 -18.9 0.6 3.3 0.7 -20.2 1.2 20.8 0.9 -4.1 0.9 18 0.7 -19.3 0.7 -3.8 0.8 -21.4 1.1 12 0.9 -0.8 1.2 12.4 0.8 -15 1 -2.9 1 -17.1 0.7 28.9 0.7 -5 0.7 29 0.7 -11.1 0.7 -3.3 0.9 -14.2 0.8 18.8 1.1 -2.3 1 20.1 1.1 -27.3 0.6 5.6 1 -25.8 1.1 17 1 -2 1 16.5 0.5 -15.2 0.6 3.7 0.6 -18.1 0.9 9.3 1.3 0.6 0.8 9.1 0.9 -5.2 1 -0.7 1 -5.9 1 19 0.8 -2.3 1 18.6 1.1 -19 0.6 -1 1.1 -18.3 0.7 12.8 0.6 2.5 0.6 11 0.8 -15.4 0.8 3.1 0.8 -15.9 0.9 16.7 1 6.9 0.8 16.6 0.8 -19.4 0.7 0.3 0.8 -21.5 1.2 24.9 1 -3.1 0.9 22.9 0.8 -10.4 0.7 -0.1 0.7 -9.5 0.5 14.6 0.6 1 0.6 16.3 0.9 -20.3 0.6 1.4 0.8 -20.8 0.7 16.6 0.6 2.3 0.7 16.9 0.7 -23 0.4 3.8 0.7 -24.7 0.7 18.6 0.8 4.6 0.6 18.5 1 -14.7 1 -4.3 1 -14.9 0.8 22.2 0.6 -7 0.9 23.6 0.7 -8.7 0.7 -0.6 0.8 -9.7 0.6 10.6 0.7 2.4 0.6 11.3 1.6 -24 1.2 13.3 0.9 1.7 0.9 11.2 1.7 -39.3 0.7 15.2 0.5 -4 0.8 16.8 0.8 -13.7 0.9 -3.6 0.8 -14 0.9 13.9 0.6 -2.6 0.7 12.3 0.7 -11.2 0.7 -2.6 0.7 -10.4 0.9 16.3 0.9 4.2 0.9 16.2 0.8 -11.4 0.8 0.4 0.8 -11.5 1.6 29.7 0.7 -9.1 0.6 -2 0.5 -7.2 0.5 13 0.7 1.4 0.5 13.6 0.8 -20.5 0.7 3.7 0.7 -19 0.7 18.4 0.4 -2.7 0.7 19.3 0.6 -24.9 0.6 1.2 0.5 -24.5 0.9 17.1 0.8 -4.3 0.8 17.1 0.5 -16.1 0.6 2.8 0.7 -18.8 1.4 43.9 0.7 -14.9 0.6 2.7 0.5 -12.7 0.6 16.4 0.7 -2.7 0.6 16 0.6 -14.9 0.8 -1.5 0.6 -15.5 0.6 21 0.7 -1 0.6 21.8 0.8 -17.5 0.7 -3.4 0.7 -16.2 1.5 46 0.7 -20.4 0.6 3.6 0.6 -18 0.9 14.9 0.7 -2.4 0.7 12.8 1.4 -35.9 0.8 18.3 0.8 2.1 0.8 16.6 0.6 -17.5 0.7 0.5 0.7 -18.2 1.6 36.2 0.5 -17.6 0.7 1.4 0.6 -19.3 0.7 18.1 0.7 -2.1 0.7 18.7 1.5 -24.4 0.6 11.5 0.7 3 0.6 12.8 1.6 -41.1 0.7 13.7 0.6 0.5 0.5 11.2 1 -27 1.2 28.5 1 -33.4 1.6 34.6 1.5 -15.6 1.2 19.5 1 -22.3 1 31.9 1 -31.6 1.1 26.2 1.4 -28.8 1.4 39.7 0.9 -38.7 1.4 32.3 1.2 -31.2 1.2 23.5 1.1 -26.9 1.2 23.9 1 -31.8 1.2 31.4 1.1 -28.3 1.3 32.8 0.9 -24.8 1.3 28.9 0.9 -28.1 1.1 31.2 1.2 -23.8 1 28.9 1 -26 0.9 30.9 1 -24.1 1 25.4 0.9 -28.9 1 22.4 0.9 -27.3 1 20.6 0.9 -21.5 0.9 21.3 0.9 -23.6 1 18.7 0.9 -19.5 0.9 22.5 0.9 -23.9 0.9 22.8 0.9 -25.4 0.8 26.1 0.9 -21.1 0.9 19.9 0.9 -16.4 0.9 24.4 0.9 -17 0.9 25.6 0.9 -24 0.8 26.1 0.9 -24.7 0.9 23.4 0.9 -23.1 0.9 17.7 0.8 -22.1 0.9 20.7 0.9 -22.3 0.9 18.4 0.8 -20.3 0.9 23.7 0.9 -24.3 0.8 16.1 0.9 -19.3 0.8 17.8 0.9 -22.5 0.9 23.9 0.8 -23.5 0.9 25.6 0.8 -16.7 0.9 25.2 0.8 -24.2 0.9 25.1 0.8 -25.4 0.9 26.5 0.8 -25.9 0.9 23.3 0.8 -24.6 0.9 22.9 0.8 -25.8 0.9 27.5 0.8 -25.8 0.8 23 0.9 -24 0.8 24.2 0.8 -25.7 0.9 20.9 0.8 -23.9 0.8 22.6 0.9 -25.1 0.8 26.4 0.8 -23.3 0.8 24.3 0.9 -20.1 0.8 23 0.8 -22.6 0.8 23.1 0.8 -20.6 0.9 20.3 0.8 -22.3 0.8 18.7 0.8 -20.6 0.8 19.1 0.8 -20.7 0.8 22.6 0.8 -21.5 0.8 19.5 0.8 -21.3 0.8 18.3 0.8 -18.7 0.8 18.3 0.8 -21.9 0.8 18.7 0.8 -16.3 0.8 19.6 0.8 -16.9 0.8 20.3 0.8 -16.6 0.8 20.3 0.8 -16.9 0.8 21.3 0.8 -17.2 0.7 18.1 0.8 -20 0.8 17.2 0.8 -18.8 0.8 18.1 0.7 -18.9 0.8 17.4 0.8 -17.5 0.8 17.7 0.8 -19.1 0.7 15.6 0.8 -18.7 0.8 15.7 0.7 -21 0.8 17.8 0.8 -20.1 0.7 19.6 0.8 -17.8 0.8 18.7 0.7 -15.3 0.8 18.8 0.7 -14.2 0.8 19.8 0.7 -16.5 0.8 18.4 0.8 -14.4 0.7 16.3 0.8 -15.9 0.7 16.5 0.8 -15.5 0.7 17.8 0.8 -18.1 0.7 19.3 0.7 -19.1 0.8 17.2 0.7 -18.5 0.8 17 0.7 -19.3 0.8 14.6 0.7 -21.4 0.7 15.4 0.8 -19.3 0.7 15.1 0.8 -16.3 0.7 15.9 0.7 -15.2 0.8 18.5 0.7 -15.6 0.7 17.2 0.8 -14.6 0.7 16.9 0.7 -14.3 0.8 17.1 0.7 -16.1 0.7 20.2 0.8 -15.5 0.7 17.1 0.7 -15 0.7 18.6 0.8 -15 0.7 19.2 0.7 -17.9 0.7 18.1 0.8 -18.2 0.7 16 0.7 -19 0.7 15.3 0.7 -19 0.8 16.2 0.7 -18.8 0.7 17.4 0.7 -18.1 0.7 16.7 0.7 -14.9 0.7 18.3 0.8 -17.4 0.7 16.2 0.7 -15.8 0.7 16.9 0.7 -16.4 0.7 17.4 0.7 -16.1 0.7 16.6 0.7 -14.3 0.7 17.9 0.7 -14.1 0.8 17 0.7 -15.2 0.7 17.8 0.7 -14.9 0.7 16.1 0.7 -17.6 0.7 15.8 0.7 -16.8 0.7 15.3 0.7 -18.6 0.7 16.7 0.6 -17.9 0.7 18.3 0.7 -18.8 0.7 19.9 0.7 -16.8 0.7 17.2 0.7 -18.1 0.7 19.6 0.7 -18.5 0.7 17 0.7 -16.9 0.7 16.4 0.6 -17.7 0.7 17.1 0.7 -16.4 0.7 18.4 0.7 -17.3 0.7 18.1 0.6 -15.6 0.7 18.6 0.7 -18.2 0.7 16.8 0.7 -19.6 0.7 16.9 0.6 -19.1 0.7 14.7 0.7 -18.6 0.7 16.5 0.6 -18.1 0.7 16 0.7 -17.3 0.7 16.8 0.6 -16.3 0.7 18.2 0.7 -19.5 0.6 19.4 0.7 -17.6 0.7 17.6 0.6 -18 0.7 16.9 0.7 -16.7 0.6 17.9 0.7 -15.2 0.7 18.6 0.6 -16.8 0.7 18.3 0.7 -14.8 0.6 19.4 0.7 -17 0.6 16.9 0.7 -16.7 0.7 15 0.6 -17 0.7 14.9 0.6 -18.4 0.7 16 0.6 -20.2 0.7 16.7 0.7 -20.1 0.6 17.9 0.7 -19.3 0.6 17.6 0.7 -17.5 0.6 16.3 0.7 -18.6 0.6 18 0.7 -18 0.6 16.1 0.7 -18.5 0.6 19 0.7 -16.8 0.6 17.7 0.7 -15.6 0.6 18.6 0.7 -16.8 0.6 21.1 0.6 -14.7 0.7 19.3 0.6 -15.7 0.7 19.6 0.6 -15.6 0.7 16.2 0.6 -17.8 0.7 17.4 0.6 -16.3 0.7 15.1 0.6 -16.4 0.7 15.4 0.6 -16.8 0.6 15.2 0.7 -17.7 0.6 17.1 0.7 -17 0.6 14.9 0.7 -17.3 0.6 14.7 0.7 -20.1 0.6 16.7 0.6 -18.6 0.7 16 0.6 -19.1 0.7 15.9 0.6 -16.2 0.7 17.2 0.6 -14.2 0.6 19.5 0.7 -15.8 0.6 20.8 0.7 -16.4 0.6 18.9 0.6 -15.9 0.7 18.7 0.6 -14.6 0.7 16.9 0.6 -16.8 0.6 17 0.7 -17.6 0.6 17.2 0.7 -17.4 0.6 18.6 0.6 -16.9 0.7 18.1 0.6 -17.2 0.7 16.8 0.6 -18 0.6 15.3 0.7 -17.5 0.6 14.1 0.6 -19.1 0.7 16.8 0.6 -18.6 0.7 16.9 0.6 -18.5 0.6 17.1 0.7 -16.3 0.6 18.4 0.6 -16.7 0.7 18 0.6 -16.1 0.6 18.5 0.7 -16.6 0.6 17.2 0.7 -16 0.6 16.6 0.6 -16.7 0.7 16.7 0.6 -16.1 0.6 17.9 0.7 -17.3 0.6 17.8 0.6 -18.3 0.7 18.9 0.6 -16.8 0.6 16.5 0.7 -15.9 0.6 16.8 0.6 -19.5 0.7 18.2 0.6 -18.8 0.6 15.7 0.6 -17.3 0.7 15.1 0.6 -18.1 0.6 17.4 0.7 -15.5 0.6 18.2 0.6 -17.9 0.7 20.2 0.6 -16.2 0.6 18.1 0.7 -15.8 0.6 19.2 0.6 -18.2 0.6 17.6 0.7 -16.1 0.6 18.1 0.6 -19.9 0.7 17.8 0.6 -16.8 0.6 18.3 0.6 -16.6 0.7 17.3 0.6 -17 0.6 18.1 0.6 -19.5 0.7 19.4 0.6 -18.8 0.6 16.4 0.6 -20.7 0.7 18.3 0.6 -20.9 0.6 17.7 0.7 -18.9 0.6 16.1 0.6 -18.9 0.6 18.6 0.7 -17.5 0.6 20.3 0.6 -16.3 0.6 17.2 0.6 -14.9 0.7 19.4 0.6 -17.2 0.6 18.1 0.6 -16.1 0.7 18.7 0.6 -17.2 0.6 16.5 0.6 -17.4 0.7 20.9 0.6 -17.9 0.6 17.6 0.6 -17.2 0.6 19.2 0.7 -17.3 0.6 17.5 0.6 -18.2 0.6 16 0.6 -20.5 0.7 18.2 0.6 -20.3 0.6 16.1 0.6 -21.6 0.6 15.9 0.7 -20.3 0.6 17.3 0.6 -20.5 0.6 17.9 0.6 -16.2 0.7 18 0.6 -18.7 0.6 19.1 0.6 -16.9 0.6 18.3 0.6 -18.5 0.7 19.4 0.6 -19.2 0.6 21.1 0.6 -17.8 0.6 17.6 0.6 -15.4 0.7 20.2 0.6 -19.6 0.6 21.9 0.6 -18.5 0.6 22.6 0.6 -19.8 0.7 21.7 0.6 -21.1 0.6 21.4 0.6 -21.9 0.6 17.4 0.6 -18.9 0.6 17.1 0.7 -19.5 0.6 15.4 0.6 -19.9 0.6 17.9 0.6 -21 0.6 18.7 0.6 -20.4 0.6 20.9 0.7 -21 0.6 19.1 0.6 -19.9 0.6 19.8 0.6 -18.8 0.6 19.4 0.6 -20.7 0.6 20.3 0.7 -20.3 0.6 21.4 0.6 -20.3 0.6 22.1 0.6 -19.3 0.6 23.2 0.6 -17.8 0.6 20.5 0.6 -16.5 0.6 18.6 0.7 -16.8 0.6 19.4 0.6 -18.9 0.6 17.6 0.6 -18 0.6 17.8 0.6 -18.3 0.6 17.3 0.6 -19.5 0.6 17.7 0.6 -19.7 0.6 18.7 0.6 -17.3 0.7 19.3 0.6 -19 0.6 18.6 0.6 -20.4 0.6 18.8 0.6 -18 0.6 15.8 0.6 -19.2 0.6 19.5 0.6 -18.1 0.6 16.1 0.6 -17 0.6 18.6 0.6 -17 0.6 18.6 0.6 -15.4 0.6 18.2 0.6 -15.4 0.6 20.2 0.6 -19.3 0.6 18.2 0.6 -16.8 0.7 16.8 0.6 -19.7 0.6 17.9 0.6 -17.6 0.6 17.7 0.6 -19.8 0.6 18.7 0.6 -20.2 0.6 19.4 0.6 -17.6 0.6 17.6 0.3 -9.5"/>
<text class="t" text-anchor="middle" x="535" y="558.8">Deflection(mm)</text>
<text class="t" text-anchor="middle" transform="translate(26 246.3) rotate(-90)">Impact Load(N)</text>
<text class="lab" x="0.4" y="36">a</text>
<path class="l" stroke="#727376" d="M778 76.3H851.4"/><text class="la" x="859.6" y="86.8">3Y-M</text>
<path class="l" stroke="#ee3b43" d="M778 115.5H851.4"/><text class="la" x="859.6" y="126.0">4Y-M</text>
<path class="l" stroke="#3a6db5" d="M778 154.8H851.4"/><text class="la" x="859.6" y="165.3">5Y-M</text>
<path class="l" stroke="#34a96a" d="M778 194.0H851.4"/><text class="la" x="859.6" y="204.5">6Y-M</text>
<path class="l" stroke="#a07dc0" d="M778 233.3H851.4"/><text class="la" x="859.6" y="243.8">7Y-M</text>
<path class="l" stroke="#c8962a" d="M778 272.5H851.4"/><text class="la" x="859.6" y="283.0">8Y-M</text>
</g>
<g id="panel-b">
<rect class="ax" x="1083.5" y="40.2" width="851.8" height="427.5"/>
<path class="ax" d="M1122.0 467.7v-11.3M1315.5 467.7v-11.3M1509.0 467.7v-11.3M1702.5 467.7v-11.3M1896.0 467.7v-11.3M1083.5 432.0h11.3M1083.5 342.9h11.3M1083.5 253.8h11.3M1083.5 164.8h11.3M1083.5 75.7h11.3"/>
<text class="tb" text-anchor="middle" x="1122.6" y="504.3">0</text>
<text class="tb" text-anchor="middle" x="1316.1" y="504.3">10</text>
<text class="tb" text-anchor="middle" x="1509.6" y="504.3">20</text>
<text class="tb" text-anchor="middle" x="1703.1" y="504.3">30</text>
<text class="tb" text-anchor="middle" x="1896.6" y="504.3">40</text>
<text class="tb" text-anchor="end" x="1071.3" y="442.6">0</text>
<text class="tb" text-anchor="end" x="1071.3" y="353.5">5</text>
<text class="tb" text-anchor="end" x="1071.3" y="264.4">10</text>
<text class="tb" text-anchor="end" x="1071.3" y="175.4">15</text>
<text class="tb" text-anchor="end" x="1071.3" y="86.3">20</text>
<path class="cb" stroke="#727376" d="M1121.7 431.5L1122.2 431.5L1122.7 431.5L1123.2 431.5L1123.7 431.5L1124.2 431.5L1124.7 431.5L1125.2 431.5L1125.7 431.4L1126.2 431.4L1126.7 431.4L1127.2 431.4L1127.7 431.4L1128.2 431.4L1128.7 431.4L1129.2 431.4L1129.7 431.4L1130.2 431.4L1130.7 431.4L1131.2 431.4L1131.7 431.4L1132.2 431.3L1132.7 431.3L1133.2 431.3L1133.7 431.3L1135.7 431.2L1137.7 431.1L1139.7 430.8L1141.7 430.4L1143.7 429.9L1145.7 429.4L1147.7 428.9L1149.7 428.4L1151.7 427.7L1153.7 427.0L1155.7 426.1L1157.7 425.2L1159.7 424.1L1161.7 423.1L1163.7 422.0L1165.7 420.9L1167.7 419.8L1169.7 418.6L1171.7 417.3L1173.7 416.0L1175.7 414.6L1177.7 413.1L1179.7 411.5L1181.7 409.9L1183.7 408.2L1185.7 406.5L1187.7 404.8L1189.7 403.1L1191.7 401.3L1193.7 399.5L1195.7 397.6L1197.7 395.6L1199.7 393.6L1201.7 391.6L1203.7 389.5L1205.7 387.5L1207.7 385.4L1209.7 383.3L1211.7 381.2L1213.7 379.1L1215.7 377.0L1217.7 374.8L1219.7 372.7L1221.7 370.6L1223.7 368.4L1225.7 366.3L1227.7 364.1L1229.7 362.0L1231.7 359.9L1233.7 357.8L1235.7 355.6L1237.7 353.5L1239.7 351.5L1241.7 349.4L1243.7 347.3L1245.7 345.3L1247.7 343.3L1249.7 341.3L1251.7 339.3L1253.7 337.4L1255.7 335.4L1257.7 333.5L1259.7 331.7L1261.7 329.8L1263.7 328.0L1265.7 326.2L1267.7 324.4L1269.7 322.7L1271.7 321.0L1273.7 319.4L1275.7 317.7L1277.7 316.1L1279.7 314.6L1281.7 313.1L1283.7 311.6L1285.7 310.1L1287.7 308.7L1289.7 307.3L1291.7 305.9L1293.7 304.6L1295.7 303.3L1297.7 302.0L1299.7 300.8L1301.7 299.6L1303.7 298.4L1305.7 297.2L1307.7 296.1L1309.7 294.9L1311.7 293.9L1313.7 292.8L1315.7 291.7L1317.7 290.7L1319.7 289.7L1321.7 288.7L1323.7 287.7L1325.7 286.8L1327.7 285.8L1329.7 284.9L1331.7 284.0L1333.7 283.1L1335.7 282.2L1337.7 281.3L1339.7 280.4L1341.7 279.6L1343.7 278.7L1345.7 277.9L1347.7 277.1L1349.7 276.3L1351.7 275.5L1353.7 274.7L1355.7 273.9L1357.7 273.1L1359.7 272.3L1361.7 271.6L1363.7 270.8L1365.7 270.0L1367.7 269.3L1369.7 268.6L1371.7 267.8L1373.7 267.1L1375.7 266.3L1377.7 265.6L1379.7 264.9L1381.7 264.2L1383.7 263.4L1385.7 262.7L1387.7 262.0L1389.7 261.3L1391.7 260.6L1393.7 259.9L1395.7 259.1L1397.7 258.4L1399.7 257.7L1401.7 257.0L1403.7 256.3L1405.7 255.6L1407.7 254.9L1409.7 254.2L1411.7 253.5L1413.7 252.8L1415.7 252.2L1417.7 251.5L1419.7 250.8L1421.7 250.1L1423.7 249.5L1425.7 248.8L1427.7 248.2L1429.7 247.5L1431.7 246.9L1433.7 246.2L1435.7 245.6L1437.7 245.0L1439.7 244.4L1441.7 243.8L1443.7 243.2L1445.7 242.6L1447.7 242.0L1449.7 241.4L1451.7 240.9L1453.7 240.3L1455.7 239.8L1457.7 239.2L1459.7 238.7L1461.7 238.2L1463.7 237.7L1465.7 237.2L1467.7 236.7L1469.7 236.2L1471.7 235.7L1473.7 235.2L1475.7 234.7L1477.7 234.2L1479.7 233.8L1481.7 233.3L1483.7 232.8L1485.7 232.4L1487.7 231.9L1489.7 231.5L1491.7 231.0L1493.7 230.6L1495.7 230.2L1497.7 229.7L1499.7 229.3L1501.7 228.9L1503.7 228.4L1505.7 228.0L1507.7 227.6L1509.7 227.1L1511.7 226.7L1513.7 226.3L1515.7 225.9L1517.7 225.5L1519.7 225.0L1521.7 224.6L1523.7 224.2L1525.7 223.8L1527.7 223.4L1529.7 222.9L1531.7 222.5L1533.7 222.1L1535.7 221.7L1537.7 221.3L1539.7 220.9L1541.7 220.5L1543.7 220.1L1545.7 219.6L1547.7 219.2L1549.7 218.8L1551.7 218.4L1553.7 218.0L1555.7 217.6L1557.7 217.2L1559.7 216.8L1561.7 216.4L1563.7 216.0L1565.7 215.6L1567.7 215.2L1569.7 214.8L1571.7 214.4L1573.7 214.0L1575.7 213.6L1577.7 213.2L1579.7 212.8L1581.7 212.4L1583.7 212.0L1585.7 211.6L1587.7 211.2L1589.7 210.8L1591.7 210.4L1593.7 210.0L1595.7 209.6L1597.7 209.2L1599.7 208.8L1601.7 208.5L1603.7 208.1L1605.7 207.7L1607.7 207.3L1609.7 206.9L1611.7 206.5L1613.7 206.1L1615.7 205.7L1617.7 205.3L1619.7 204.9L1621.7 204.5L1623.7 204.1L1625.7 203.7L1627.7 203.4L1629.7 203.0L1631.7 202.6L1633.7 202.2L1635.7 201.8L1637.7 201.4L1639.7 201.0L1641.7 200.6L1643.7 200.2L1645.7 199.8L1647.7 199.5L1649.7 199.1L1651.7 198.7L1653.7 198.3L1655.7 197.9L1657.7 197.5L1659.7 197.2L1661.7 196.8L1663.7 196.4L1665.7 196.0L1667.7 195.7L1669.7 195.3L1671.7 194.9L1673.7 194.5L1675.7 194.2L1677.7 193.8L1679.7 193.5L1681.7 193.1L1683.7 192.8L1685.7 192.4L1687.7 192.1L1689.7 191.7L1691.7 191.4L1693.7 191.0L1695.7 190.7L1697.7 190.4L1699.7 190.0L1701.7 189.7L1703.7 189.4L1705.7 189.1L1707.7 188.7L1709.7 188.4L1711.7 188.1L1713.7 187.8L1715.7 187.5L1717.7 187.2L1719.7 186.9L1721.7 186.6L1723.7 186.3L1725.7 186.1L1727.7 185.8L1729.7 185.5L1731.7 185.2L1733.7 184.9L1735.7 184.6L1737.7 184.4L1739.7 184.1L1741.7 183.8L1743.7 183.5L1745.7 183.2L1747.7 183.0L1749.7 182.7L1751.7 182.4L1753.7 182.1L1755.7 181.8L1757.7 181.6L1759.7 181.3L1761.7 181.0L1763.7 180.7L1765.7 180.4L1767.7 180.1L1769.7 179.8L1771.7 179.5L1773.7 179.2L1775.7 179.0L1777.7 178.7L1779.7 178.4L1781.7 178.1L1783.7 177.8L1785.7 177.5L1787.7 177.2L1789.7 176.9L1791.7 176.6L1793.7 176.3L1795.7 176.0L1797.7 175.7L1799.7 175.4L1801.7 175.1L1803.7 174.9L1805.7 174.6L1807.7 174.3L1809.7 174.0L1811.7 173.7L1813.7 173.4L1815.7 173.1L1817.7 172.9L1819.7 172.6L1821.7 172.3L1823.7 172.0L1825.7 171.8L1827.7 171.5L1829.7 171.2L1831.7 171.0L1833.7 170.7L1835.7 170.4L1837.7 170.2L1839.7 169.9L1841.7 169.7L1843.7 169.4L1845.7 169.2L1847.7 169.0L1849.7 168.7L1851.7 168.5L1853.7 168.3L1855.7 168.0L1857.7 167.8L1859.7 167.6L1861.7 167.4L1863.7 167.2L1865.7 167.0L1867.7 166.8L1869.7 166.6L1871.7 166.4L1873.7 166.2L1875.1 166.1"/>
<path class="cb" stroke="#ee3b43" d="M1121.7 431.5L1122.2 431.3L1122.7 431.2L1123.2 431.0L1123.7 430.8L1124.2 430.7L1124.7 430.5L1125.2 430.4L1125.7 430.2L1126.2 430.0L1126.7 429.9L1127.2 429.7L1127.7 429.5L1128.2 429.4L1128.7 429.2L1129.2 429.0L1129.7 428.8L1130.2 428.7L1130.7 428.5L1131.2 428.3L1131.7 428.1L1132.2 427.9L1132.7 427.8L1133.2 427.6L1133.7 427.4L1135.7 426.7L1137.7 425.9L1139.7 425.1L1141.7 424.1L1143.7 423.0L1145.7 421.7L1147.7 420.2L1149.7 418.7L1151.7 417.2L1153.7 415.7L1155.7 414.1L1157.7 412.6L1159.7 410.9L1161.7 409.3L1163.7 407.6L1165.7 405.9L1167.7 404.1L1169.7 402.3L1171.7 400.4L1173.7 398.6L1175.7 396.6L1177.7 394.6L1179.7 392.6L1181.7 390.6L1183.7 388.6L1185.7 386.6L1187.7 384.7L1189.7 382.7L1191.7 380.7L1193.7 378.6L1195.7 376.6L1197.7 374.4L1199.7 372.3L1201.7 370.2L1203.7 368.1L1205.7 366.0L1207.7 363.9L1209.7 361.8L1211.7 359.7L1213.7 357.5L1215.7 355.4L1217.7 353.3L1219.7 351.1L1221.7 349.0L1223.7 346.8L1225.7 344.7L1227.7 342.6L1229.7 340.4L1231.7 338.3L1233.7 336.1L1235.7 333.9L1237.7 331.6L1239.7 329.3L1241.7 326.9L1243.7 324.4L1245.7 321.8L1247.7 319.2L1249.7 316.6L1251.7 313.9L1253.7 311.2L1255.7 308.5L1257.7 305.9L1259.7 303.3L1261.7 300.7L1263.7 298.1L1265.7 295.6L1267.7 293.2L1269.7 290.8L1271.7 288.5L1273.7 286.3L1275.7 284.1L1277.7 282.1L1279.7 280.2L1281.7 278.4L1283.7 276.7L1285.7 275.2L1287.7 273.7L1289.7 272.2L1291.7 270.9L1293.7 269.6L1295.7 268.4L1297.7 267.2L1299.7 266.0L1301.7 264.9L1303.7 263.9L1305.7 262.8L1307.7 261.7L1309.7 260.6L1311.7 259.6L1313.7 258.5L1315.7 257.4L1317.7 256.3L1319.7 255.2L1321.7 254.0L1323.7 252.9L1325.7 251.8L1327.7 250.6L1329.7 249.5L1331.7 248.4L1333.7 247.2L1335.7 246.1L1337.7 245.0L1339.7 243.8L1341.7 242.7L1343.7 241.6L1345.7 240.4L1347.7 239.3L1349.7 238.2L1351.7 237.1L1353.7 236.0L1355.7 234.9L1357.7 233.9L1359.7 232.8L1361.7 231.7L1363.7 230.6L1365.7 229.6L1367.7 228.5L1369.7 227.4L1371.7 226.4L1373.7 225.3L1375.7 224.3L1377.7 223.2L1379.7 222.1L1381.7 221.1L1383.7 220.0L1385.7 219.0L1387.7 217.9L1389.7 216.9L1391.7 215.8L1393.7 214.8L1395.7 213.7L1397.7 212.7L1399.7 211.7L1401.7 210.6L1403.7 209.6L1405.7 208.6L1407.7 207.6L1409.7 206.6L1411.7 205.6L1413.7 204.6L1415.7 203.6L1417.7 202.6L1419.7 201.6L1421.7 200.7L1423.7 199.7L1425.7 198.8L1427.7 197.9L1429.7 196.9L1431.7 196.0L1433.7 195.1L1435.7 194.3L1437.7 193.4L1439.7 192.6L1441.7 191.8L1443.7 190.9L1445.7 190.2L1447.7 189.4L1449.7 188.6L1451.7 187.9L1453.7 187.2L1455.7 186.5L1457.7 185.8L1459.7 185.2L1461.7 184.6L1463.7 183.9L1465.7 183.3L1467.7 182.8L1469.7 182.2L1471.7 181.7L1473.7 181.1L1475.7 180.6L1477.7 180.1L1479.7 179.6L1481.7 179.1L1483.7 178.7L1485.7 178.2L1487.7 177.7L1489.7 177.3L1491.7 176.8L1493.7 176.4L1495.7 176.0L1497.7 175.6L1499.7 175.1L1501.7 174.7L1503.7 174.3L1505.7 173.9L1507.7 173.5L1509.7 173.1L1511.7 172.7L1513.7 172.3L1515.7 171.9L1517.7 171.5L1519.7 171.1L1521.7 170.8L1523.7 170.4L1525.7 170.0L1527.7 169.7L1529.7 169.3L1531.7 169.0L1533.7 168.6L1535.7 168.3L1537.7 167.9L1539.7 167.6L1541.7 167.3L1543.7 167.0L1545.7 166.6L1547.7 166.3L1549.7 166.0L1551.7 165.7L1553.7 165.4L1555.7 165.1L1557.7 164.8L1559.7 164.5L1561.7 164.3L1563.7 164.0L1565.7 163.7L1567.7 163.4L1569.7 163.2L1571.7 162.9L1573.7 162.7L1575.7 162.4L1577.7 162.2L1579.7 162.0L1581.7 161.7L1583.7 161.5L1585.7 161.3L1587.7 161.1L1589.7 160.9L1591.7 160.7L1593.7 160.5L1595.7 160.3L1597.7 160.1L1599.7 159.9L1601.7 159.7L1603.7 159.5L1605.7 159.3L1607.7 159.2L1609.7 159.0L1611.7 158.8L1613.7 158.7L1615.7 158.5L1617.7 158.4L1619.7 158.2L1621.7 158.1L1623.7 157.9L1625.7 157.8L1627.7 157.7L1629.7 157.5L1631.7 157.4L1633.7 157.3L1635.7 157.1L1637.7 157.0L1639.7 156.9L1641.7 156.8L1643.7 156.7L1645.7 156.6L1647.7 156.4L1649.7 156.3L1651.7 156.2L1653.7 156.1L1655.7 156.0L1657.7 155.9L1659.7 155.8L1661.7 155.7L1663.7 155.6L1665.7 155.5L1667.7 155.4L1669.7 155.3L1671.7 155.2L1673.7 155.1L1675.7 155.0L1677.7 155.0L1679.7 154.9L1681.7 154.8L1683.7 154.7L1685.7 154.6L1687.7 154.5L1689.7 154.4L1691.7 154.3L1693.7 154.2L1695.7 154.2L1697.7 154.1L1699.7 154.0L1701.7 153.9L1703.7 153.8L1705.7 153.7L1707.7 153.6L1709.7 153.5L1711.7 153.4L1713.7 153.3L1715.7 153.2L1717.7 153.1L1719.7 153.0L1721.7 152.9L1723.7 152.8L1725.7 152.7L1727.7 152.6L1729.7 152.5L1731.7 152.4L1733.7 152.3L1735.7 152.2L1737.7 152.1L1739.7 152.0L1741.7 151.9L1743.7 151.7L1745.7 151.6L1747.7 151.5L1749.7 151.4L1751.7 151.2L1753.7 151.1L1755.7 151.0L1757.7 150.9L1759.7 150.7L1761.7 150.6L1763.7 150.5L1765.7 150.3L1767.7 150.2L1769.7 150.1L1771.7 149.9L1773.7 149.8L1775.7 149.6L1777.7 149.5L1779.7 149.4L1781.7 149.2L1783.7 149.1L1785.7 149.0L1787.7 148.8L1789.7 148.7L1791.7 148.5L1793.7 148.4L1795.7 148.3L1797.7 148.1L1799.7 148.0L1801.7 147.9L1803.7 147.7L1805.7 147.6L1807.7 147.5L1809.7 147.3L1811.7 147.2L1813.7 147.1L1815.7 147.0L1817.7 146.8L1819.7 146.7L1821.7 146.6L1823.7 146.5L1825.7 146.3L1827.7 146.2L1829.7 146.1L1831.7 146.0L1833.7 145.9L1835.7 145.8L1837.7 145.7L1839.7 145.6L1841.7 145.5L1843.7 145.4L1845.7 145.3L1847.7 145.2L1849.7 145.1L1851.7 145.0L1853.7 144.9L1855.7 144.8L1857.7 144.8L1859.7 144.7L1861.7 144.6L1863.7 144.5L1865.7 144.5L1867.7 144.4L1869.7 144.4L1871.7 144.3L1873.7 144.3L1875.1 144.2"/>
<path class="cb" stroke="#3a6db5" d="M1121.7 431.5L1122.2 431.5L1122.7 431.6L1123.2 431.6L1123.7 431.6L1124.2 431.7L1124.7 431.7L1125.2 431.7L1125.7 431.7L1126.2 431.8L1126.7 431.8L1127.2 431.8L1127.7 431.8L1128.2 431.8L1128.7 431.8L1129.2 431.8L1129.7 431.9L1130.2 431.9L1130.7 431.9L1131.2 431.9L1131.7 431.9L1132.2 431.9L1132.7 431.9L1133.2 431.9L1133.7 431.9L1135.7 431.9L1137.7 431.7L1139.7 431.4L1141.7 431.0L1143.7 430.4L1145.7 429.9L1147.7 429.3L1149.7 428.6L1151.7 427.8L1153.7 426.9L1155.7 426.0L1157.7 425.0L1159.7 424.0L1161.7 422.9L1163.7 421.8L1165.7 420.7L1167.7 419.5L1169.7 418.2L1171.7 416.9L1173.7 415.6L1175.7 414.1L1177.7 412.5L1179.7 410.8L1181.7 409.1L1183.7 407.4L1185.7 405.6L1187.7 403.8L1189.7 401.9L1191.7 400.0L1193.7 398.0L1195.7 396.0L1197.7 393.9L1199.7 391.7L1201.7 389.5L1203.7 387.3L1205.7 385.1L1207.7 382.8L1209.7 380.5L1211.7 378.2L1213.7 375.8L1215.7 373.5L1217.7 371.1L1219.7 368.7L1221.7 366.3L1223.7 363.8L1225.7 361.4L1227.7 358.9L1229.7 356.5L1231.7 354.0L1233.7 351.5L1235.7 349.0L1237.7 346.5L1239.7 344.0L1241.7 341.6L1243.7 339.1L1245.7 336.7L1247.7 334.2L1249.7 331.8L1251.7 329.4L1253.7 327.0L1255.7 324.5L1257.7 322.1L1259.7 319.8L1261.7 317.5L1263.7 315.4L1265.7 313.3L1267.7 311.3L1269.7 309.4L1271.7 307.5L1273.7 305.8L1275.7 304.1L1277.7 302.4L1279.7 300.8L1281.7 299.3L1283.7 297.9L1285.7 296.4L1287.7 295.1L1289.7 293.7L1291.7 292.5L1293.7 291.2L1295.7 290.0L1297.7 288.8L1299.7 287.7L1301.7 286.5L1303.7 285.4L1305.7 284.3L1307.7 283.2L1309.7 282.1L1311.7 281.0L1313.7 279.9L1315.7 278.8L1317.7 277.7L1319.7 276.6L1321.7 275.5L1323.7 274.3L1325.7 273.2L1327.7 272.0L1329.7 270.9L1331.7 269.7L1333.7 268.5L1335.7 267.3L1337.7 266.1L1339.7 265.0L1341.7 263.8L1343.7 262.6L1345.7 261.4L1347.7 260.2L1349.7 259.1L1351.7 257.9L1353.7 256.8L1355.7 255.6L1357.7 254.5L1359.7 253.3L1361.7 252.2L1363.7 251.1L1365.7 250.0L1367.7 248.9L1369.7 247.8L1371.7 246.6L1373.7 245.5L1375.7 244.4L1377.7 243.2L1379.7 242.1L1381.7 240.9L1383.7 239.7L1385.7 238.6L1387.7 237.4L1389.7 236.1L1391.7 234.9L1393.7 233.7L1395.7 232.5L1397.7 231.2L1399.7 230.0L1401.7 228.8L1403.7 227.6L1405.7 226.4L1407.7 225.3L1409.7 224.1L1411.7 223.0L1413.7 222.0L1415.7 221.0L1417.7 220.0L1419.7 219.0L1421.7 218.1L1423.7 217.2L1425.7 216.3L1427.7 215.5L1429.7 214.7L1431.7 213.9L1433.7 213.2L1435.7 212.5L1437.7 211.8L1439.7 211.1L1441.7 210.5L1443.7 209.8L1445.7 209.3L1447.7 208.7L1449.7 208.1L1451.7 207.6L1453.7 207.1L1455.7 206.6L1457.7 206.1L1459.7 205.6L1461.7 205.2L1463.7 204.8L1465.7 204.3L1467.7 203.9L1469.7 203.6L1471.7 203.2L1473.7 202.8L1475.7 202.5L1477.7 202.1L1479.7 201.8L1481.7 201.5L1483.7 201.1L1485.7 200.8L1487.7 200.5L1489.7 200.2L1491.7 199.9L1493.7 199.6L1495.7 199.3L1497.7 199.0L1499.7 198.7L1501.7 198.5L1503.7 198.2L1505.7 197.9L1507.7 197.6L1509.7 197.3L1511.7 197.0L1513.7 196.7L1515.7 196.3L1517.7 196.0L1519.7 195.7L1521.7 195.3L1523.7 195.0L1525.7 194.6L1527.7 194.2L1529.7 193.9L1531.7 193.5L1533.7 193.0L1535.7 192.6L1537.7 192.1L1539.7 191.7L1541.7 191.2L1543.7 190.7L1545.7 190.2L1547.7 189.6L1549.7 189.1L1551.7 188.5L1553.7 187.9L1555.7 187.4L1557.7 186.8L1559.7 186.2L1561.7 185.6L1563.7 184.9L1565.7 184.3L1567.7 183.7L1569.7 183.1L1571.7 182.4L1573.7 181.8L1575.7 181.2L1577.7 180.5L1579.7 179.9L1581.7 179.3L1583.7 178.7L1585.7 178.0L1587.7 177.4L1589.7 176.8L1591.7 176.2L1593.7 175.6L1595.7 175.0L1597.7 174.4L1599.7 173.8L1601.7 173.2L1603.7 172.6L1605.7 172.1L1607.7 171.5L1609.7 170.9L1611.7 170.4L1613.7 169.8L1615.7 169.3L1617.7 168.7L1619.7 168.2L1621.7 167.7L1623.7 167.1L1625.7 166.6L1627.7 166.1L1629.7 165.6L1631.7 165.1L1633.7 164.6L1635.7 164.1L1637.7 163.7L1639.7 163.2L1641.7 162.8L1643.7 162.3L1645.7 161.9L1647.7 161.5L1649.7 161.0L1651.7 160.6L1653.7 160.2L1655.7 159.8L1657.7 159.5L1659.7 159.1L1661.7 158.7L1663.7 158.4L1665.7 158.1L1667.7 157.7L1669.7 157.4L1671.7 157.1L1673.7 156.8L1675.7 156.5L1677.7 156.2L1679.7 156.0L1681.7 155.7L1683.7 155.4L1685.7 155.2L1687.7 155.0L1689.7 154.7L1691.7 154.5L1693.7 154.2L1695.7 154.0L1697.7 153.8L1699.7 153.6L1701.7 153.4L1703.7 153.2L1705.7 152.9L1707.7 152.7L1709.7 152.5L1711.7 152.3L1713.7 152.1L1715.7 151.9L1717.7 151.7L1719.7 151.5L1721.7 151.3L1723.7 151.1L1725.7 150.8L1727.7 150.6L1729.7 150.4L1731.7 150.2L1733.7 149.9L1735.7 149.7L1737.7 149.5L1739.7 149.2L1741.7 149.0L1743.7 148.7L1745.7 148.4L1747.7 148.2L1749.7 147.9L1751.7 147.6L1753.7 147.4L1755.7 147.1L1757.7 146.8L1759.7 146.5L1761.7 146.2L1763.7 145.9L1765.7 145.6L1767.7 145.3L1769.7 145.0L1771.7 144.7L1773.7 144.4L1775.7 144.1L1777.7 143.8L1779.7 143.5L1781.7 143.2L1783.7 142.9L1785.7 142.6L1787.7 142.3L1789.7 142.0L1791.7 141.7L1793.7 141.4L1795.7 141.1L1797.7 140.8L1799.7 140.5L1801.7 140.2L1803.7 139.9L1805.7 139.6L1807.7 139.3L1809.7 139.0L1811.7 138.7L1813.7 138.4L1815.7 138.1L1817.7 137.8L1819.7 137.6L1821.7 137.3L1823.7 137.0L1825.7 136.7L1827.7 136.5L1829.7 136.2L1831.7 136.0L1833.7 135.7L1835.7 135.5L1837.7 135.2L1839.7 135.0L1841.7 134.8L1843.7 134.6L1845.7 134.4L1847.7 134.2L1849.7 134.0L1851.7 133.8L1853.7 133.6L1855.7 133.4L1857.7 133.2L1859.7 133.1L1861.7 132.9L1863.7 132.8L1865.7 132.6L1867.7 132.5L1869.7 132.4L1871.7 132.3L1873.7 132.2L1875.1 132.1"/>
<path class="cb" stroke="#34a96a" d="M1121.7 431.5L1122.2 431.0L1122.7 430.6L1123.2 430.2L1123.7 429.7L1124.2 429.3L1124.7 428.9L1125.2 428.6L1125.7 428.2L1126.2 427.8L1126.7 427.5L1127.2 427.2L1127.7 426.9L1128.2 426.6L1128.7 426.4L1129.2 426.1L1129.7 425.9L1130.2 425.7L1130.7 425.6L1131.2 425.4L1131.7 425.3L1132.2 425.1L1132.7 425.0L1133.2 424.9L1133.7 424.8L1135.7 424.3L1137.7 423.8L1139.7 423.0L1141.7 421.7L1143.7 419.9L1145.7 418.0L1147.7 416.4L1149.7 414.7L1151.7 413.1L1153.7 411.2L1155.7 409.3L1157.7 407.3L1159.7 405.2L1161.7 403.2L1163.7 401.1L1165.7 399.2L1167.7 397.2L1169.7 395.2L1171.7 393.2L1173.7 391.1L1175.7 389.0L1177.7 386.8L1179.7 384.5L1181.7 382.3L1183.7 380.1L1185.7 377.9L1187.7 375.7L1189.7 373.5L1191.7 371.3L1193.7 369.1L1195.7 367.0L1197.7 364.8L1199.7 362.6L1201.7 360.4L1203.7 358.2L1205.7 356.0L1207.7 353.8L1209.7 351.5L1211.7 349.3L1213.7 347.0L1215.7 344.6L1217.7 342.3L1219.7 339.9L1221.7 337.5L1223.7 335.0L1225.7 332.5L1227.7 329.9L1229.7 327.4L1231.7 324.7L1233.7 322.0L1235.7 319.3L1237.7 316.6L1239.7 313.8L1241.7 311.1L1243.7 308.5L1245.7 306.1L1247.7 303.7L1249.7 301.4L1251.7 299.0L1253.7 296.7L1255.7 294.4L1257.7 291.9L1259.7 289.5L1261.7 287.1L1263.7 284.8L1265.7 282.6L1267.7 280.6L1269.7 278.8L1271.7 277.2L1273.7 275.9L1275.7 274.7L1277.7 273.6L1279.7 272.4L1281.7 271.3L1283.7 270.0L1285.7 268.6L1287.7 267.3L1289.7 265.8L1291.7 264.4L1293.7 263.0L1295.7 261.6L1297.7 260.3L1299.7 259.1L1301.7 257.9L1303.7 256.8L1305.7 255.7L1307.7 254.6L1309.7 253.6L1311.7 252.6L1313.7 251.6L1315.7 250.5L1317.7 249.5L1319.7 248.4L1321.7 247.4L1323.7 246.3L1325.7 245.2L1327.7 244.1L1329.7 243.0L1331.7 241.9L1333.7 240.8L1335.7 239.7L1337.7 238.5L1339.7 237.4L1341.7 236.3L1343.7 235.2L1345.7 234.1L1347.7 233.0L1349.7 231.9L1351.7 230.9L1353.7 229.8L1355.7 228.7L1357.7 227.7L1359.7 226.7L1361.7 225.7L1363.7 224.6L1365.7 223.6L1367.7 222.7L1369.7 221.7L1371.7 220.7L1373.7 219.8L1375.7 218.8L1377.7 217.9L1379.7 217.0L1381.7 216.0L1383.7 215.1L1385.7 214.3L1387.7 213.4L1389.7 212.5L1391.7 211.6L1393.7 210.8L1395.7 210.0L1397.7 209.1L1399.7 208.3L1401.7 207.5L1403.7 206.7L1405.7 205.9L1407.7 205.2L1409.7 204.4L1411.7 203.6L1413.7 202.9L1415.7 202.2L1417.7 201.5L1419.7 200.8L1421.7 200.1L1423.7 199.4L1425.7 198.7L1427.7 198.1L1429.7 197.4L1431.7 196.8L1433.7 196.2L1435.7 195.6L1437.7 195.1L1439.7 194.5L1441.7 194.0L1443.7 193.4L1445.7 192.9L1447.7 192.4L1449.7 192.0L1451.7 191.5L1453.7 191.1L1455.7 190.7L1457.7 190.3L1459.7 189.9L1461.7 189.6L1463.7 189.2L1465.7 188.9L1467.7 188.6L1469.7 188.3L1471.7 187.9L1473.7 187.6L1475.7 187.3L1477.7 187.0L1479.7 186.7L1481.7 186.4L1483.7 186.1L1485.7 185.7L1487.7 185.4L1489.7 185.1L1491.7 184.7L1493.7 184.3L1495.7 183.9L1497.7 183.5L1499.7 183.1L1501.7 182.6L1503.7 182.2L1505.7 181.7L1507.7 181.2L1509.7 180.7L1511.7 180.2L1513.7 179.6L1515.7 179.1L1517.7 178.5L1519.7 178.0L1521.7 177.4L1523.7 176.8L1525.7 176.2L1527.7 175.6L1529.7 175.0L1531.7 174.3L1533.7 173.7L1535.7 173.1L1537.7 172.5L1539.7 171.8L1541.7 171.2L1543.7 170.5L1545.7 169.9L1547.7 169.3L1549.7 168.6L1551.7 168.0L1553.7 167.4L1555.7 166.7L1557.7 166.1L1559.7 165.5L1561.7 164.9L1563.7 164.3L1565.7 163.7L1567.7 163.1L1569.7 162.5L1571.7 161.9L1573.7 161.4L1575.7 160.8L1577.7 160.3L1579.7 159.8L1581.7 159.3L1583.7 158.8L1585.7 158.3L1587.7 157.9L1589.7 157.4L1591.7 157.0L1593.7 156.6L1595.7 156.2L1597.7 155.8L1599.7 155.4L1601.7 155.1L1603.7 154.7L1605.7 154.4L1607.7 154.0L1609.7 153.7L1611.7 153.4L1613.7 153.1L1615.7 152.8L1617.7 152.5L1619.7 152.2L1621.7 152.0L1623.7 151.7L1625.7 151.4L1627.7 151.2L1629.7 151.0L1631.7 150.7L1633.7 150.5L1635.7 150.3L1637.7 150.0L1639.7 149.8L1641.7 149.6L1643.7 149.4L1645.7 149.2L1647.7 149.0L1649.7 148.8L1651.7 148.6L1653.7 148.4L1655.7 148.2L1657.7 148.1L1659.7 147.9L1661.7 147.7L1663.7 147.5L1665.7 147.3L1667.7 147.1L1669.7 147.0L1671.7 146.8L1673.7 146.6L1675.7 146.4L1677.7 146.2L1679.7 146.0L1681.7 145.8L1683.7 145.6L1685.7 145.5L1687.7 145.3L1689.7 145.1L1691.7 144.9L1693.7 144.7L1695.7 144.5L1697.7 144.3L1699.7 144.1L1701.7 143.9L1703.7 143.7L1705.7 143.5L1707.7 143.4L1709.7 143.2L1711.7 143.0L1713.7 142.8L1715.7 142.6L1717.7 142.4L1719.7 142.2L1721.7 142.0L1723.7 141.7L1725.7 141.5L1727.7 141.3L1729.7 141.1L1731.7 140.9L1733.7 140.7L1735.7 140.5L1737.7 140.3L1739.7 140.1L1741.7 139.8L1743.7 139.6L1745.7 139.4L1747.7 139.2L1749.7 139.0L1751.7 138.7L1753.7 138.5L1755.7 138.3L1757.7 138.1L1759.7 137.9L1761.7 137.6L1763.7 137.4L1765.7 137.2L1767.7 137.0L1769.7 136.7L1771.7 136.5L1773.7 136.3L1775.7 136.1L1777.7 135.9L1779.7 135.7L1781.7 135.4L1783.7 135.2L1785.7 135.0L1787.7 134.8L1789.7 134.6L1791.7 134.4L1793.7 134.2L1795.7 134.0L1797.7 133.8L1799.7 133.6L1801.7 133.4L1803.7 133.2L1805.7 133.0L1807.7 132.8L1809.7 132.6L1811.7 132.4L1813.7 132.2L1815.7 132.1L1817.7 131.9L1819.7 131.7L1821.7 131.6L1823.7 131.4L1825.7 131.2L1827.7 131.1L1829.7 130.9L1831.7 130.8L1833.7 130.6L1835.7 130.5L1837.7 130.4L1839.7 130.2L1841.7 130.1L1843.7 130.0L1845.7 129.9L1847.7 129.8L1849.7 129.7L1851.7 129.6L1853.7 129.5L1855.7 129.4L1857.7 129.3L1859.7 129.2L1861.7 129.2L1863.7 129.1L1865.7 129.1L1867.7 129.0L1869.7 129.0L1871.7 128.9L1873.7 128.9L1875.1 128.9"/>
<path class="cb" stroke="#a07dc0" d="M1121.7 431.5L1122.2 418.9L1122.7 417.0L1123.2 415.9L1123.7 415.0L1124.2 414.3L1124.7 413.7L1125.2 413.0L1125.7 412.4L1126.2 411.8L1126.7 411.2L1127.2 410.7L1127.7 410.2L1128.2 409.7L1128.7 409.2L1129.2 408.8L1129.7 408.4L1130.2 408.0L1130.7 407.5L1131.2 407.1L1131.7 406.6L1132.2 406.2L1132.7 405.7L1133.2 405.2L1133.7 404.7L1135.7 402.8L1137.7 400.8L1139.7 398.7L1141.7 396.6L1143.7 394.5L1145.7 392.3L1147.7 390.2L1149.7 387.9L1151.7 385.7L1153.7 383.3L1155.7 380.9L1157.7 378.5L1159.7 376.1L1161.7 373.7L1163.7 371.3L1165.7 369.0L1167.7 366.8L1169.7 364.5L1171.7 362.4L1173.7 360.4L1175.7 358.6L1177.7 356.8L1179.7 355.0L1181.7 353.2L1183.7 351.4L1185.7 349.6L1187.7 347.8L1189.7 345.9L1191.7 344.1L1193.7 342.2L1195.7 340.4L1197.7 338.5L1199.7 336.6L1201.7 334.7L1203.7 332.8L1205.7 330.9L1207.7 329.0L1209.7 327.1L1211.7 325.1L1213.7 323.2L1215.7 321.3L1217.7 319.4L1219.7 317.5L1221.7 315.5L1223.7 313.6L1225.7 311.6L1227.7 309.6L1229.7 307.7L1231.7 305.7L1233.7 303.7L1235.7 301.7L1237.7 299.7L1239.7 297.8L1241.7 295.8L1243.7 293.8L1245.7 291.9L1247.7 289.9L1249.7 288.0L1251.7 286.1L1253.7 284.2L1255.7 282.3L1257.7 280.5L1259.7 278.6L1261.7 276.8L1263.7 275.0L1265.7 273.3L1267.7 271.6L1269.7 269.9L1271.7 268.2L1273.7 266.5L1275.7 264.9L1277.7 263.3L1279.7 261.8L1281.7 260.3L1283.7 258.8L1285.7 257.3L1287.7 255.8L1289.7 254.4L1291.7 253.0L1293.7 251.6L1295.7 250.3L1297.7 249.0L1299.7 247.7L1301.7 246.5L1303.7 245.2L1305.7 244.0L1307.7 242.8L1309.7 241.7L1311.7 240.5L1313.7 239.4L1315.7 238.3L1317.7 237.2L1319.7 236.1L1321.7 235.1L1323.7 234.0L1325.7 233.0L1327.7 232.0L1329.7 231.0L1331.7 230.1L1333.7 229.1L1335.7 228.1L1337.7 227.2L1339.7 226.2L1341.7 225.3L1343.7 224.4L1345.7 223.5L1347.7 222.6L1349.7 221.7L1351.7 220.8L1353.7 219.9L1355.7 219.0L1357.7 218.1L1359.7 217.2L1361.7 216.3L1363.7 215.4L1365.7 214.5L1367.7 213.6L1369.7 212.7L1371.7 211.8L1373.7 210.9L1375.7 210.0L1377.7 209.1L1379.7 208.2L1381.7 207.2L1383.7 206.3L1385.7 205.4L1387.7 204.5L1389.7 203.6L1391.7 202.7L1393.7 201.8L1395.7 200.9L1397.7 200.1L1399.7 199.2L1401.7 198.3L1403.7 197.5L1405.7 196.7L1407.7 195.9L1409.7 195.1L1411.7 194.3L1413.7 193.5L1415.7 192.8L1417.7 192.0L1419.7 191.3L1421.7 190.6L1423.7 189.9L1425.7 189.2L1427.7 188.5L1429.7 187.9L1431.7 187.2L1433.7 186.6L1435.7 186.0L1437.7 185.3L1439.7 184.7L1441.7 184.1L1443.7 183.5L1445.7 182.9L1447.7 182.3L1449.7 181.7L1451.7 181.2L1453.7 180.6L1455.7 180.0L1457.7 179.5L1459.7 178.9L1461.7 178.4L1463.7 177.8L1465.7 177.3L1467.7 176.7L1469.7 176.2L1471.7 175.7L1473.7 175.2L1475.7 174.7L1477.7 174.2L1479.7 173.7L1481.7 173.2L1483.7 172.7L1485.7 172.2L1487.7 171.7L1489.7 171.2L1491.7 170.8L1493.7 170.3L1495.7 169.8L1497.7 169.4L1499.7 168.9L1501.7 168.5L1503.7 168.0L1505.7 167.6L1507.7 167.2L1509.7 166.7L1511.7 166.3L1513.7 165.9L1515.7 165.5L1517.7 165.1L1519.7 164.7L1521.7 164.3L1523.7 163.9L1525.7 163.5L1527.7 163.1L1529.7 162.7L1531.7 162.4L1533.7 162.0L1535.7 161.6L1537.7 161.2L1539.7 160.9L1541.7 160.5L1543.7 160.1L1545.7 159.7L1547.7 159.4L1549.7 159.0L1551.7 158.6L1553.7 158.2L1555.7 157.9L1557.7 157.5L1559.7 157.1L1561.7 156.7L1563.7 156.3L1565.7 155.9L1567.7 155.6L1569.7 155.2L1571.7 154.8L1573.7 154.4L1575.7 154.0L1577.7 153.6L1579.7 153.2L1581.7 152.8L1583.7 152.4L1585.7 152.0L1587.7 151.6L1589.7 151.2L1591.7 150.9L1593.7 150.5L1595.7 150.1L1597.7 149.7L1599.7 149.3L1601.7 149.0L1603.7 148.6L1605.7 148.2L1607.7 147.9L1609.7 147.5L1611.7 147.1L1613.7 146.8L1615.7 146.5L1617.7 146.1L1619.7 145.8L1621.7 145.4L1623.7 145.1L1625.7 144.8L1627.7 144.4L1629.7 144.1L1631.7 143.8L1633.7 143.5L1635.7 143.2L1637.7 142.8L1639.7 142.5L1641.7 142.2L1643.7 141.9L1645.7 141.6L1647.7 141.3L1649.7 141.0L1651.7 140.7L1653.7 140.5L1655.7 140.2L1657.7 139.9L1659.7 139.6L1661.7 139.3L1663.7 139.1L1665.7 138.8L1667.7 138.5L1669.7 138.3L1671.7 138.0L1673.7 137.7L1675.7 137.5L1677.7 137.2L1679.7 137.0L1681.7 136.7L1683.7 136.5L1685.7 136.2L1687.7 136.0L1689.7 135.7L1691.7 135.5L1693.7 135.3L1695.7 135.0L1697.7 134.8L1699.7 134.6L1701.7 134.4L1703.7 134.1L1705.7 133.9L1707.7 133.7L1709.7 133.5L1711.7 133.3L1713.7 133.0L1715.7 132.8L1717.7 132.6L1719.7 132.4L1721.7 132.2L1723.7 132.0L1725.7 131.8L1727.7 131.6L1729.7 131.4L1731.7 131.2L1733.7 131.0L1735.7 130.8L1737.7 130.6L1739.7 130.5L1741.7 130.3L1743.7 130.1L1745.7 129.9L1747.7 129.7L1749.7 129.5L1751.7 129.4L1753.7 129.2L1755.7 129.0L1757.7 128.8L1759.7 128.7L1761.7 128.5L1763.7 128.3L1765.7 128.2L1767.7 128.0L1769.7 127.8L1771.7 127.7L1773.7 127.5L1775.7 127.3L1777.7 127.2L1779.7 127.0L1781.7 126.9L1783.7 126.7L1785.7 126.6L1787.7 126.4L1789.7 126.2L1791.7 126.1L1793.7 125.9L1795.7 125.8L1797.7 125.6L1799.7 125.5L1801.7 125.4L1803.7 125.2L1805.7 125.1L1807.7 124.9L1809.7 124.8L1811.7 124.6L1813.7 124.5L1815.7 124.3L1817.7 124.2L1819.7 124.1L1821.7 123.9L1823.7 123.8L1825.7 123.6L1827.7 123.5L1829.7 123.4L1831.7 123.2L1833.7 123.1L1835.7 123.0L1837.7 122.8L1839.7 122.7L1841.7 122.6L1843.7 122.4L1845.7 122.3L1847.7 122.2L1849.7 122.0L1851.7 121.9L1853.7 121.8L1855.7 121.6L1857.7 121.5L1859.7 121.4L1861.7 121.2L1863.7 121.1L1865.7 121.0L1867.7 120.8L1869.7 120.7L1871.7 120.6L1873.7 120.4L1875.1 120.3"/>
<path class="cb" stroke="#c8962a" d="M1121.7 431.5L1122.2 431.5L1122.7 431.5L1123.2 431.5L1123.7 431.5L1124.2 431.4L1124.7 431.4L1125.2 431.4L1125.7 431.4L1126.2 431.4L1126.7 431.4L1127.2 431.4L1127.7 431.4L1128.2 431.4L1128.7 431.3L1129.2 431.3L1129.7 431.3L1130.2 431.3L1130.7 431.3L1131.2 431.2L1131.7 431.2L1132.2 431.2L1132.7 431.2L1133.2 431.2L1133.7 431.1L1135.7 431.0L1137.7 430.8L1139.7 430.5L1141.7 430.1L1143.7 429.7L1145.7 429.2L1147.7 428.7L1149.7 428.2L1151.7 427.5L1153.7 426.7L1155.7 425.8L1157.7 424.8L1159.7 423.8L1161.7 422.7L1163.7 421.6L1165.7 420.5L1167.7 419.3L1169.7 418.1L1171.7 416.9L1173.7 415.6L1175.7 414.1L1177.7 412.6L1179.7 411.0L1181.7 409.3L1183.7 407.6L1185.7 405.9L1187.7 404.1L1189.7 402.3L1191.7 400.4L1193.7 398.5L1195.7 396.5L1197.7 394.4L1199.7 392.2L1201.7 390.1L1203.7 387.9L1205.7 385.6L1207.7 383.4L1209.7 381.1L1211.7 378.7L1213.7 376.4L1215.7 374.0L1217.7 371.6L1219.7 369.1L1221.7 366.6L1223.7 364.1L1225.7 361.6L1227.7 359.1L1229.7 356.5L1231.7 353.9L1233.7 351.4L1235.7 348.8L1237.7 346.3L1239.7 343.9L1241.7 341.5L1243.7 339.2L1245.7 337.0L1247.7 334.9L1249.7 333.0L1251.7 331.0L1253.7 329.1L1255.7 327.0L1257.7 324.9L1259.7 322.7L1261.7 320.4L1263.7 318.1L1265.7 315.8L1267.7 313.5L1269.7 311.1L1271.7 308.8L1273.7 306.5L1275.7 304.1L1277.7 301.8L1279.7 299.5L1281.7 297.1L1283.7 294.9L1285.7 292.6L1287.7 290.3L1289.7 288.1L1291.7 285.9L1293.7 283.7L1295.7 281.6L1297.7 279.5L1299.7 277.5L1301.7 275.5L1303.7 273.6L1305.7 271.7L1307.7 269.9L1309.7 268.2L1311.7 266.6L1313.7 265.0L1315.7 263.5L1317.7 262.1L1319.7 260.7L1321.7 259.4L1323.7 258.1L1325.7 256.8L1327.7 255.4L1329.7 254.1L1331.7 252.8L1333.7 251.4L1335.7 250.0L1337.7 248.7L1339.7 247.3L1341.7 245.9L1343.7 244.6L1345.7 243.2L1347.7 241.8L1349.7 240.5L1351.7 239.1L1353.7 237.8L1355.7 236.4L1357.7 235.1L1359.7 233.8L1361.7 232.5L1363.7 231.1L1365.7 229.8L1367.7 228.5L1369.7 227.2L1371.7 225.9L1373.7 224.7L1375.7 223.4L1377.7 222.1L1379.7 220.8L1381.7 219.6L1383.7 218.3L1385.7 217.1L1387.7 215.8L1389.7 214.6L1391.7 213.4L1393.7 212.1L1395.7 210.9L1397.7 209.7L1399.7 208.5L1401.7 207.3L1403.7 206.1L1405.7 204.9L1407.7 203.7L1409.7 202.5L1411.7 201.4L1413.7 200.2L1415.7 199.0L1417.7 197.9L1419.7 196.7L1421.7 195.6L1423.7 194.5L1425.7 193.3L1427.7 192.2L1429.7 191.1L1431.7 190.0L1433.7 188.9L1435.7 187.8L1437.7 186.7L1439.7 185.6L1441.7 184.6L1443.7 183.5L1445.7 182.5L1447.7 181.4L1449.7 180.4L1451.7 179.4L1453.7 178.3L1455.7 177.3L1457.7 176.3L1459.7 175.3L1461.7 174.4L1463.7 173.4L1465.7 172.4L1467.7 171.5L1469.7 170.5L1471.7 169.6L1473.7 168.7L1475.7 167.7L1477.7 166.8L1479.7 165.9L1481.7 165.1L1483.7 164.2L1485.7 163.3L1487.7 162.5L1489.7 161.6L1491.7 160.8L1493.7 160.0L1495.7 159.2L1497.7 158.4L1499.7 157.6L1501.7 156.8L1503.7 156.0L1505.7 155.3L1507.7 154.5L1509.7 153.8L1511.7 153.1L1513.7 152.4L1515.7 151.7L1517.7 151.0L1519.7 150.3L1521.7 149.6L1523.7 148.9L1525.7 148.3L1527.7 147.6L1529.7 147.0L1531.7 146.3L1533.7 145.7L1535.7 145.1L1537.7 144.4L1539.7 143.8L1541.7 143.2L1543.7 142.6L1545.7 142.0L1547.7 141.4L1549.7 140.8L1551.7 140.3L1553.7 139.7L1555.7 139.1L1557.7 138.5L1559.7 138.0L1561.7 137.4L1563.7 136.9L1565.7 136.3L1567.7 135.7L1569.7 135.2L1571.7 134.6L1573.7 134.1L1575.7 133.6L1577.7 133.0L1579.7 132.5L1581.7 131.9L1583.7 131.4L1585.7 130.8L1587.7 130.3L1589.7 129.8L1591.7 129.2L1593.7 128.7L1595.7 128.2L1597.7 127.6L1599.7 127.1L1601.7 126.6L1603.7 126.0L1605.7 125.5L1607.7 125.0L1609.7 124.5L1611.7 124.0L1613.7 123.5L1615.7 123.0L1617.7 122.5L1619.7 122.0L1621.7 121.5L1623.7 121.0L1625.7 120.5L1627.7 120.0L1629.7 119.5L1631.7 119.0L1633.7 118.6L1635.7 118.1L1637.7 117.6L1639.7 117.2L1641.7 116.7L1643.7 116.3L1645.7 115.8L1647.7 115.4L1649.7 115.0L1651.7 114.5L1653.7 114.1L1655.7 113.7L1657.7 113.3L1659.7 112.9L1661.7 112.5L1663.7 112.1L1665.7 111.7L1667.7 111.3L1669.7 111.0L1671.7 110.6L1673.7 110.3L1675.7 109.9L1677.7 109.6L1679.7 109.2L1681.7 108.9L1683.7 108.6L1685.7 108.2L1687.7 107.9L1689.7 107.6L1691.7 107.3L1693.7 107.0L1695.7 106.7L1697.7 106.4L1699.7 106.1L1701.7 105.8L1703.7 105.5L1705.7 105.3L1707.7 105.0L1709.7 104.7L1711.7 104.5L1713.7 104.2L1715.7 103.9L1717.7 103.7L1719.7 103.4L1721.7 103.2L1723.7 102.9L1725.7 102.7L1727.7 102.4L1729.7 102.2L1731.7 101.9L1733.7 101.7L1735.7 101.4L1737.7 101.2L1739.7 101.0L1741.7 100.7L1743.7 100.5L1745.7 100.2L1747.7 100.0L1749.7 99.8L1751.7 99.5L1753.7 99.3L1755.7 99.1L1757.7 98.9L1759.7 98.6L1761.7 98.4L1763.7 98.2L1765.7 98.0L1767.7 97.8L1769.7 97.5L1771.7 97.3L1773.7 97.1L1775.7 96.9L1777.7 96.7L1779.7 96.5L1781.7 96.3L1783.7 96.1L1785.7 95.8L1787.7 95.6L1789.7 95.4L1791.7 95.2L1793.7 95.0L1795.7 94.8L1797.7 94.6L1799.7 94.5L1801.7 94.3L1803.7 94.1L1805.7 93.9L1807.7 93.7L1809.7 93.5L1811.7 93.3L1813.7 93.1L1815.7 93.0L1817.7 92.8L1819.7 92.6L1821.7 92.4L1823.7 92.3L1825.7 92.1L1827.7 91.9L1829.7 91.8L1831.7 91.6L1833.7 91.4L1835.7 91.3L1837.7 91.1L1839.7 91.0L1841.7 90.8L1843.7 90.6L1845.7 90.5L1847.7 90.3L1849.7 90.2L1851.7 90.1L1853.7 89.9L1855.7 89.8L1857.7 89.6L1859.7 89.5L1861.7 89.4L1863.7 89.2L1865.7 89.1L1867.7 89.0L1869.7 88.8L1871.7 88.7L1873.7 88.6L1875.1 88.5"/>
<text class="t" text-anchor="middle" x="1504" y="556">Deflection(mm)</text>
<text class="t" text-anchor="middle" transform="translate(1012.2 249.4) rotate(-90)">Energy(J)</text>
<text class="lab" x="988.2" y="36.3">b</text>
<path class="l" stroke="#727376" d="M1103.2 67.7H1172"/><text class="lb" x="1179.3" y="77.1">3Y-M</text>
<path class="l" stroke="#ee3b43" d="M1103.2 103.0H1172"/><text class="lb" x="1179.3" y="112.4">4Y-M</text>
<path class="l" stroke="#3a6db5" d="M1103.2 138.3H1172"/><text class="lb" x="1179.3" y="147.7">5Y-M</text>
<path class="l" stroke="#34a96a" d="M1103.2 173.6H1172"/><text class="lb" x="1179.3" y="183.0">6Y-M</text>
<path class="l" stroke="#a07dc0" d="M1103.2 208.9H1172"/><text class="lb" x="1179.3" y="218.3">7Y-M</text>
<path class="l" stroke="#c8962a" d="M1103.2 244.2H1172"/><text class="lb" x="1179.3" y="253.6">8Y-M</text>
</g>
</svg>
</body></html>
